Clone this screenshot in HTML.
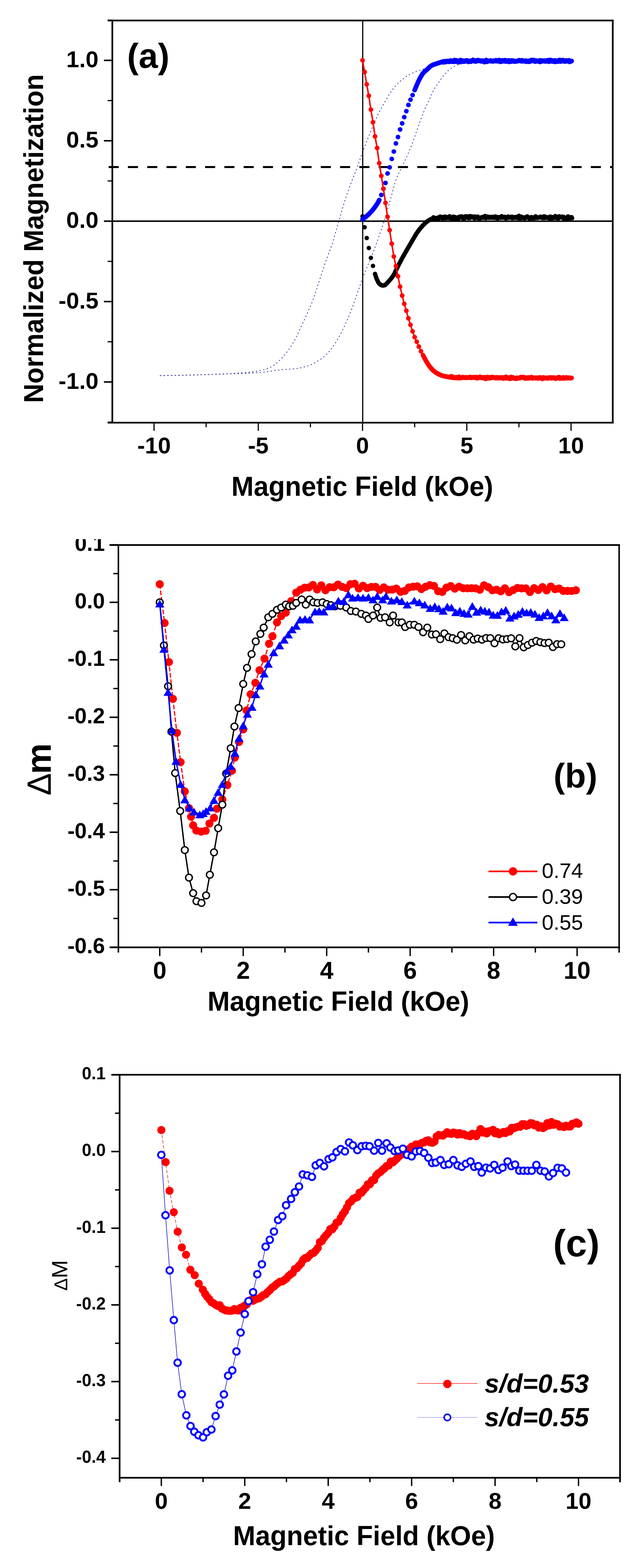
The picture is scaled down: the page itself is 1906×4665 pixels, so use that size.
<!DOCTYPE html><html><head><meta charset="utf-8"><title>Magnetization figure</title>
<style>html,body{margin:0;padding:0;background:#fff;overflow:hidden;}svg{display:block;}text{font-family:"Liberation Sans",Arial,sans-serif;fill:#000;}</style></head><body>
<svg width="1906" height="4665" viewBox="0 0 1906 4665">
<rect width="1906" height="4665" fill="#fff"/>
<polyline points="475.4,1117.5 476.9,1117.5 478.4,1117.5 480.0,1117.5 481.5,1117.5 483.0,1117.5 484.5,1117.5 486.1,1117.5 487.6,1117.4 489.1,1117.4 490.7,1117.4 492.2,1117.4 493.7,1117.4 495.3,1117.4 496.8,1117.4 498.3,1117.3 499.8,1117.3 501.4,1117.3 502.9,1117.3 504.4,1117.3 506.0,1117.2 507.5,1117.2 509.0,1117.2 510.6,1117.2 512.1,1117.2 513.6,1117.1 515.1,1117.1 516.7,1117.1 518.2,1117.1 519.7,1117.0 521.3,1117.0 522.8,1117.0 524.3,1116.9 525.9,1116.9 527.4,1116.9 528.9,1116.9 530.4,1116.8 532.0,1116.8 533.5,1116.8 535.0,1116.7 536.6,1116.7 538.1,1116.7 539.6,1116.6 541.2,1116.6 542.7,1116.6 544.2,1116.5 545.7,1116.5 547.3,1116.4 548.8,1116.4 550.3,1116.4 551.9,1116.3 553.4,1116.3 554.9,1116.3 556.5,1116.2 558.0,1116.2 559.5,1116.1 561.1,1116.1 562.6,1116.0 564.1,1116.0 565.6,1116.0 567.2,1115.9 568.7,1115.9 570.2,1115.8 571.8,1115.8 573.3,1115.7 574.8,1115.7 576.4,1115.7 577.9,1115.6 579.4,1115.6 580.9,1115.5 582.5,1115.5 584.0,1115.4 585.5,1115.4 587.1,1115.3 588.6,1115.3 590.1,1115.2 591.7,1115.2 593.2,1115.1 594.7,1115.1 596.2,1115.0 597.8,1115.0 599.3,1114.9 600.8,1114.9 602.4,1114.8 603.9,1114.8 605.4,1114.7 607.0,1114.7 608.5,1114.6 610.0,1114.6 611.5,1114.5 613.1,1114.5 614.6,1114.4 616.1,1114.4 617.7,1114.3 619.2,1114.3 620.7,1114.2 622.3,1114.2 623.8,1114.1 625.3,1114.1 626.9,1114.0 628.4,1114.0 629.9,1113.9 631.4,1113.9 633.0,1113.8 634.5,1113.8 636.0,1113.7 637.6,1113.6 639.1,1113.6 640.6,1113.5 642.2,1113.5 643.7,1113.4 645.2,1113.4 646.7,1113.3 648.3,1113.2 649.8,1113.2 651.3,1113.1 652.9,1113.1 654.4,1113.0 655.9,1112.9 657.5,1112.9 659.0,1112.8 660.5,1112.7 662.0,1112.7 663.6,1112.6 665.1,1112.5 666.6,1112.5 668.2,1112.4 669.7,1112.3 671.2,1112.2 672.8,1112.2 674.3,1112.1 675.8,1112.0 677.3,1111.9 678.9,1111.9 680.4,1111.8 681.9,1111.7 683.5,1111.6 685.0,1111.5 686.5,1111.4 688.1,1111.4 689.6,1111.3 691.1,1111.2 692.7,1111.1 694.2,1111.0 695.7,1110.9 697.2,1110.8 698.8,1110.7 700.3,1110.6 701.8,1110.5 703.4,1110.4 704.9,1110.3 706.4,1110.2 708.0,1110.1 709.5,1110.0 711.0,1109.9 712.5,1109.8 714.1,1109.6 715.6,1109.5 717.1,1109.4 718.7,1109.3 720.2,1109.2 721.7,1109.0 723.3,1108.9 724.8,1108.8 726.3,1108.7 727.8,1108.5 729.4,1108.4 730.9,1108.3 732.4,1108.1 734.0,1108.0 735.5,1107.8 737.0,1107.7 738.6,1107.5 740.1,1107.4 741.6,1107.2 743.1,1107.1 744.7,1106.9 746.2,1106.7 747.7,1106.5 749.3,1106.3 750.8,1106.1 752.3,1105.9 753.9,1105.7 755.4,1105.5 756.9,1105.2 758.4,1105.0 760.0,1104.7 761.5,1104.5 763.0,1104.2 764.6,1103.9 766.1,1103.7 767.6,1103.4 769.2,1103.1 770.7,1102.8 772.2,1102.4 773.8,1102.1 775.3,1101.8 776.8,1101.4 778.3,1101.1 779.9,1100.7 781.4,1100.3 782.9,1099.9 784.5,1099.5 786.0,1099.1 787.5,1098.7 789.1,1098.3 790.6,1097.9 792.1,1097.4 793.6,1097.0 795.2,1096.5 796.7,1096.0 798.2,1095.5 799.8,1095.0 801.3,1094.4 802.8,1093.7 804.4,1092.9 805.9,1092.1 807.4,1091.2 808.9,1090.3 810.5,1089.3 812.0,1088.2 813.5,1087.2 815.1,1086.1 816.6,1085.0 818.1,1083.8 819.7,1082.7 821.2,1081.5 822.7,1080.2 824.2,1078.9 825.8,1077.5 827.3,1076.1 828.8,1074.6 830.4,1073.1 831.9,1071.6 833.4,1070.1 835.0,1068.5 836.5,1066.9 838.0,1065.3 839.6,1063.7 841.1,1062.0 842.6,1060.3 844.1,1058.5 845.7,1056.7 847.2,1054.9 848.7,1053.0 850.3,1051.1 851.8,1049.2 853.3,1047.2 854.9,1045.2 856.4,1043.1 857.9,1041.0 859.4,1038.8 861.0,1036.6 862.5,1034.4 864.0,1032.0 865.6,1029.7 867.1,1027.3 868.6,1024.8 870.2,1022.3 871.7,1019.7 873.2,1017.0 874.7,1014.4 876.3,1011.6 877.8,1008.8 879.3,1005.8 880.9,1002.7 882.4,999.6 883.9,996.4 885.5,993.2 887.0,989.9 888.5,986.6 890.0,983.3 891.6,980.0 893.1,976.8 894.6,973.5 896.2,970.3 897.7,967.1 899.2,963.8 900.8,960.6 902.3,957.3 903.8,954.0 905.3,950.7 906.9,947.4 908.4,944.0 909.9,940.6 911.5,937.2 913.0,933.7 914.5,930.3 916.1,926.8 917.6,923.3 919.1,919.8 920.7,916.3 922.2,912.8 923.7,909.2 925.2,905.5 926.8,901.8 928.3,898.0 929.8,894.1 931.4,890.1 932.9,886.0 934.4,881.7 936.0,877.3 937.5,872.7 939.0,868.0 940.5,863.3 942.1,858.4 943.6,853.5 945.1,848.7 946.7,843.8 948.2,839.0 949.7,834.3 951.3,829.6 952.8,825.0 954.3,820.4 955.8,815.8 957.4,811.2 958.9,806.7 960.4,802.1 962.0,797.5 963.5,793.0 965.0,788.5 966.6,784.1 968.1,779.6 969.6,775.2 971.1,770.9 972.7,766.6 974.2,762.4 975.7,758.3 977.3,754.3 978.8,750.2 980.3,746.2 981.9,742.0 983.4,737.9 984.9,733.6 986.5,729.3 988.0,724.8 989.5,720.1 991.0,715.3 992.6,710.3 994.1,705.1 995.6,699.8 997.2,694.4 998.7,689.0 1000.2,683.5 1001.8,678.0 1003.3,672.5 1004.8,667.0 1006.3,661.6 1007.9,656.3 1009.4,651.1 1010.9,645.8 1012.5,640.5 1014.0,635.2 1015.5,629.9 1017.1,624.6 1018.6,619.4 1020.1,614.2 1021.6,609.1 1023.2,604.1 1024.7,599.1 1026.2,594.3 1027.8,589.7 1029.3,585.1 1030.8,580.6 1032.4,576.2 1033.9,571.8 1035.4,567.5 1036.9,563.3 1038.5,559.1 1040.0,554.9 1041.5,550.8 1043.1,546.7 1044.6,542.6 1046.1,538.6 1047.7,534.6 1049.2,530.6 1050.7,526.8 1052.3,523.0 1053.8,519.2 1055.3,515.4 1056.8,511.6 1058.4,507.7 1059.9,503.7 1061.4,499.7 1063.0,495.5 1064.5,491.2 1066.0,486.8 1067.6,482.3 1069.1,477.8 1070.6,473.3 1072.1,468.8 1073.7,464.4 1075.2,460.0 1076.7,455.7 1078.3,451.6 1079.8,447.5 1081.3,443.5 1082.9,439.5 1084.4,435.5 1085.9,431.6 1087.4,427.7 1089.0,423.9 1090.5,420.1 1092.0,416.3 1093.6,412.5 1095.1,408.8 1096.6,405.0 1098.2,401.3 1099.7,397.6 1101.2,393.9 1102.7,390.2 1104.3,386.5 1105.8,382.8 1107.3,379.1 1108.9,375.4 1110.4,371.8 1111.9,368.1 1113.5,364.5 1115.0,360.9 1116.5,357.3 1118.0,353.8 1119.6,350.4 1121.1,347.0 1122.6,343.7 1124.2,340.5 1125.7,337.4 1127.2,334.4 1128.8,331.3 1130.3,328.4 1131.8,325.4 1133.4,322.6 1134.9,319.7 1136.4,316.9 1137.9,314.2 1139.5,311.4 1141.0,308.7 1142.5,306.1 1144.1,303.5 1145.6,300.9 1147.1,298.3 1148.7,295.7 1150.2,293.2 1151.7,290.6 1153.2,288.1 1154.8,285.6 1156.3,283.1 1157.8,280.6 1159.4,278.2 1160.9,275.8 1162.4,273.4 1164.0,271.1 1165.5,268.9 1167.0,266.8 1168.5,264.7 1170.1,262.7 1171.6,260.7 1173.1,258.9 1174.7,257.1 1176.2,255.4 1177.7,253.7 1179.3,252.1 1180.8,250.6 1182.3,249.0 1183.8,247.5 1185.4,246.1 1186.9,244.6 1188.4,243.2 1190.0,241.9 1191.5,240.5 1193.0,239.2 1194.6,237.9 1196.1,236.6 1197.6,235.3 1199.2,234.0 1200.7,232.8 1202.2,231.6 1203.7,230.5 1205.3,229.4 1206.8,228.3 1208.3,227.4 1209.9,226.4 1211.4,225.5 1212.9,224.6 1214.5,223.7 1216.0,222.8 1217.5,222.0 1219.0,221.2 1220.6,220.4 1222.1,219.6 1223.6,218.8 1225.2,218.1 1226.7,217.4 1228.2,216.6 1229.8,216.0 1231.3,215.3 1232.8,214.6 1234.3,214.0 1235.9,213.4 1237.4,212.8 1238.9,212.3 1240.5,211.8 1242.0,211.3 1243.5,210.8 1245.1,210.4 1246.6,209.9 1248.1,209.4 1249.6,209.0 1251.2,208.5 1252.7,207.9 1254.2,207.3 1255.8,206.8 1257.3,206.2 1258.8,205.5 1260.4,204.9 1261.9,204.3 1263.4,203.7 1264.9,203.1 1266.5,202.5 1268.0,201.9 1269.5,201.4 1271.1,200.8 1272.6,200.3 1274.1,199.8 1275.7,199.2 1277.2,198.7 1278.7,198.1 1280.3,197.6 1281.8,197.1 1283.3,196.5 1284.8,196.0 1286.4,195.5 1287.9,195.0 1289.4,194.5 1291.0,194.1 1292.5,193.6 1294.0,193.2 1295.6,192.8 1297.1,192.4 1298.6,192.1 1300.1,191.8 1301.7,191.5 1303.2,191.2 1304.7,190.9 1306.3,190.6 1307.8,190.3 1309.3,190.0 1310.9,189.8 1312.4,189.5 1313.9,189.2 1315.4,188.9 1317.0,188.7 1318.5,188.4 1320.0,188.2 1321.6,187.9 1323.1,187.7 1324.6,187.4 1326.2,187.2 1327.7,187.0 1329.2,186.8 1330.7,186.5 1332.3,186.3 1333.8,186.1 1335.3,186.0 1336.9,185.8 1338.4,185.6 1339.9,185.4 1341.5,185.3 1343.0,185.1 1344.5,185.0 1346.1,184.9 1347.6,184.8 1349.1,184.7 1350.6,184.6 1352.2,184.5 1353.7,184.5 1355.2,184.4 1356.8,184.4 1358.3,184.4 1359.8,184.3 1361.4,184.3 1362.9,184.3 1364.4,184.3 1365.9,184.2 1367.5,184.2 1369.0,184.2 1370.5,184.2 1372.1,184.1 1373.6,184.1 1375.1,184.1 1376.7,184.1 1378.2,184.0 1379.7,184.0 1381.2,184.0 1382.8,184.0 1384.3,183.9 1385.8,183.9 1387.4,183.9 1388.9,183.9 1390.4,183.9 1392.0,183.8 1393.5,183.8 1395.0,183.8 1396.5,183.8 1398.1,183.7 1399.6,183.7 1401.1,183.7 1402.7,183.7 1404.2,183.7 1405.7,183.6 1407.3,183.6 1408.8,183.6 1410.3,183.6 1411.9,183.6 1413.4,183.5 1414.9,183.5 1416.4,183.5 1418.0,183.5 1419.5,183.5 1421.0,183.4 1422.6,183.4 1424.1,183.4 1425.6,183.4 1427.2,183.4 1428.7,183.4 1430.2,183.3 1431.7,183.3 1433.3,183.3 1434.8,183.3 1436.3,183.3 1437.9,183.2 1439.4,183.2 1440.9,183.2 1442.5,183.2 1444.0,183.2 1445.5,183.2 1447.0,183.1 1448.6,183.1 1450.1,183.1 1451.6,183.1 1453.2,183.1 1454.7,183.1 1456.2,183.0 1457.8,183.0 1459.3,183.0 1460.8,183.0 1462.3,183.0 1463.9,183.0 1465.4,183.0 1466.9,182.9 1468.5,182.9 1470.0,182.9 1471.5,182.9 1473.1,182.9 1474.6,182.9 1476.1,182.9 1477.6,182.8 1479.2,182.8 1480.7,182.8 1482.2,182.8 1483.8,182.8 1485.3,182.8 1486.8,182.8 1488.4,182.8 1489.9,182.7 1491.4,182.7 1493.0,182.7 1494.5,182.7 1496.0,182.7 1497.5,182.7 1499.1,182.7 1500.6,182.7 1502.1,182.6 1503.7,182.6 1505.2,182.6 1506.7,182.6 1508.3,182.6 1509.8,182.6 1511.3,182.6 1512.8,182.6 1514.4,182.6 1515.9,182.5 1517.4,182.5 1519.0,182.5 1520.5,182.5 1522.0,182.5 1523.6,182.5 1525.1,182.5 1526.6,182.5 1528.1,182.5 1529.7,182.5 1531.2,182.4 1532.7,182.4 1534.3,182.4 1535.8,182.4 1537.3,182.4 1538.9,182.4 1540.4,182.4 1541.9,182.4 1543.4,182.4 1545.0,182.4 1546.5,182.4 1548.0,182.3 1549.6,182.3 1551.1,182.3 1552.6,182.3 1554.2,182.3 1555.7,182.3 1557.2,182.3 1558.8,182.3 1560.3,182.3 1561.8,182.3 1563.3,182.3 1564.9,182.3 1566.4,182.3 1567.9,182.3 1569.5,182.2 1571.0,182.2 1572.5,182.2 1574.1,182.2 1575.6,182.2 1577.1,182.2 1578.6,182.2 1580.2,182.2 1581.7,182.2 1583.2,182.2 1584.8,182.2 1586.3,182.2 1587.8,182.2 1589.4,182.2 1590.9,182.2 1592.4,182.2 1593.9,182.2 1595.5,182.1 1597.0,182.1 1598.5,182.1 1600.1,182.1 1601.6,182.1 1603.1,182.1 1604.7,182.1 1606.2,182.1 1607.7,182.1 1609.2,182.1 1610.8,182.1 1612.3,182.1 1613.8,182.1 1615.4,182.1 1616.9,182.1 1618.4,182.1 1620.0,182.1 1621.5,182.1 1623.0,182.1 1624.5,182.1 1626.1,182.1 1627.6,182.1 1629.1,182.1 1630.7,182.1 1632.2,182.1 1633.7,182.0 1635.3,182.0 1636.8,182.0 1638.3,182.0 1639.9,182.0 1641.4,182.0 1642.9,182.0 1644.4,182.0 1646.0,182.0 1647.5,182.0 1649.0,182.0 1650.6,182.0 1652.1,182.0 1653.6,182.0 1655.2,182.0 1656.7,182.0 1658.2,182.0 1659.7,182.0 1661.3,182.0 1662.8,182.0 1664.3,182.0 1665.9,182.0 1667.4,182.0 1668.9,182.0 1670.5,182.0 1672.0,182.0 1673.5,182.0 1675.0,182.0 1676.6,182.0 1678.1,182.0 1679.6,182.0 1681.2,182.0 1682.7,182.0 1684.2,182.0 1685.8,182.0 1687.3,182.0 1688.8,182.0 1690.3,182.0 1691.9,182.0 1693.4,182.0 1694.9,182.0 1696.5,182.0 1698.0,182.0" fill="none" stroke="#24249a" stroke-width="2.0" stroke-linejoin="round" stroke-dasharray="4 7"/>
<polyline points="475.4,1117.5 476.9,1117.5 478.4,1117.5 480.0,1117.4 481.5,1117.4 483.0,1117.4 484.5,1117.4 486.1,1117.3 487.6,1117.3 489.1,1117.3 490.7,1117.3 492.2,1117.2 493.7,1117.2 495.3,1117.2 496.8,1117.2 498.3,1117.1 499.8,1117.1 501.4,1117.1 502.9,1117.1 504.4,1117.0 506.0,1117.0 507.5,1117.0 509.0,1116.9 510.6,1116.9 512.1,1116.9 513.6,1116.8 515.1,1116.8 516.7,1116.8 518.2,1116.8 519.7,1116.7 521.3,1116.7 522.8,1116.7 524.3,1116.6 525.9,1116.6 527.4,1116.6 528.9,1116.5 530.4,1116.5 532.0,1116.5 533.5,1116.4 535.0,1116.4 536.6,1116.4 538.1,1116.3 539.6,1116.3 541.2,1116.3 542.7,1116.2 544.2,1116.2 545.7,1116.2 547.3,1116.1 548.8,1116.1 550.3,1116.1 551.9,1116.0 553.4,1116.0 554.9,1115.9 556.5,1115.9 558.0,1115.9 559.5,1115.8 561.1,1115.8 562.6,1115.8 564.1,1115.7 565.6,1115.7 567.2,1115.6 568.7,1115.6 570.2,1115.6 571.8,1115.5 573.3,1115.5 574.8,1115.4 576.4,1115.4 577.9,1115.4 579.4,1115.3 580.9,1115.3 582.5,1115.2 584.0,1115.2 585.5,1115.2 587.1,1115.1 588.6,1115.1 590.1,1115.0 591.7,1115.0 593.2,1115.0 594.7,1114.9 596.2,1114.9 597.8,1114.8 599.3,1114.8 600.8,1114.7 602.4,1114.7 603.9,1114.7 605.4,1114.6 607.0,1114.6 608.5,1114.5 610.0,1114.5 611.5,1114.4 613.1,1114.4 614.6,1114.4 616.1,1114.3 617.7,1114.3 619.2,1114.2 620.7,1114.2 622.3,1114.1 623.8,1114.1 625.3,1114.0 626.9,1114.0 628.4,1114.0 629.9,1113.9 631.4,1113.9 633.0,1113.8 634.5,1113.8 636.0,1113.7 637.6,1113.7 639.1,1113.6 640.6,1113.6 642.2,1113.6 643.7,1113.5 645.2,1113.5 646.7,1113.4 648.3,1113.4 649.8,1113.3 651.3,1113.3 652.9,1113.2 654.4,1113.2 655.9,1113.1 657.5,1113.1 659.0,1113.1 660.5,1113.0 662.0,1113.0 663.6,1112.9 665.1,1112.9 666.6,1112.8 668.2,1112.8 669.7,1112.7 671.2,1112.7 672.8,1112.6 674.3,1112.6 675.8,1112.5 677.3,1112.5 678.9,1112.4 680.4,1112.4 681.9,1112.4 683.5,1112.3 685.0,1112.3 686.5,1112.2 688.1,1112.1 689.6,1112.1 691.1,1112.0 692.7,1112.0 694.2,1111.9 695.7,1111.9 697.2,1111.8 698.8,1111.8 700.3,1111.7 701.8,1111.7 703.4,1111.6 704.9,1111.6 706.4,1111.5 708.0,1111.4 709.5,1111.4 711.0,1111.3 712.5,1111.3 714.1,1111.2 715.6,1111.1 717.1,1111.1 718.7,1111.0 720.2,1111.0 721.7,1110.9 723.3,1110.8 724.8,1110.8 726.3,1110.7 727.8,1110.6 729.4,1110.6 730.9,1110.5 732.4,1110.4 734.0,1110.3 735.5,1110.3 737.0,1110.2 738.6,1110.1 740.1,1110.0 741.6,1110.0 743.1,1109.9 744.7,1109.8 746.2,1109.7 747.7,1109.7 749.3,1109.6 750.8,1109.5 752.3,1109.4 753.9,1109.3 755.4,1109.2 756.9,1109.2 758.4,1109.1 760.0,1109.0 761.5,1108.9 763.0,1108.8 764.6,1108.7 766.1,1108.6 767.6,1108.5 769.2,1108.4 770.7,1108.3 772.2,1108.2 773.8,1108.1 775.3,1108.0 776.8,1107.9 778.3,1107.8 779.9,1107.6 781.4,1107.5 782.9,1107.3 784.5,1107.1 786.0,1107.0 787.5,1106.8 789.1,1106.6 790.6,1106.4 792.1,1106.2 793.6,1106.0 795.2,1105.8 796.7,1105.5 798.2,1105.3 799.8,1105.1 801.3,1104.9 802.8,1104.6 804.4,1104.4 805.9,1104.2 807.4,1103.9 808.9,1103.7 810.5,1103.5 812.0,1103.2 813.5,1103.0 815.1,1102.8 816.6,1102.6 818.1,1102.3 819.7,1102.1 821.2,1101.9 822.7,1101.7 824.2,1101.5 825.8,1101.3 827.3,1101.1 828.8,1100.9 830.4,1100.7 831.9,1100.5 833.4,1100.4 835.0,1100.2 836.5,1100.1 838.0,1099.9 839.6,1099.8 841.1,1099.7 842.6,1099.6 844.1,1099.5 845.7,1099.3 847.2,1099.2 848.7,1099.1 850.3,1099.0 851.8,1098.9 853.3,1098.9 854.9,1098.8 856.4,1098.7 857.9,1098.6 859.4,1098.5 861.0,1098.4 862.5,1098.3 864.0,1098.2 865.6,1098.1 867.1,1097.9 868.6,1097.8 870.2,1097.7 871.7,1097.5 873.2,1097.4 874.7,1097.2 876.3,1097.1 877.8,1096.9 879.3,1096.7 880.9,1096.5 882.4,1096.3 883.9,1096.0 885.5,1095.8 887.0,1095.5 888.5,1095.3 890.0,1095.0 891.6,1094.7 893.1,1094.4 894.6,1094.1 896.2,1093.8 897.7,1093.4 899.2,1093.1 900.8,1092.7 902.3,1092.4 903.8,1092.0 905.3,1091.6 906.9,1091.2 908.4,1090.8 909.9,1090.4 911.5,1090.0 913.0,1089.5 914.5,1089.1 916.1,1088.6 917.6,1088.1 919.1,1087.5 920.7,1086.9 922.2,1086.3 923.7,1085.6 925.2,1084.9 926.8,1084.2 928.3,1083.5 929.8,1082.7 931.4,1081.9 932.9,1081.1 934.4,1080.3 936.0,1079.4 937.5,1078.6 939.0,1077.7 940.5,1076.8 942.1,1075.9 943.6,1074.9 945.1,1074.0 946.7,1073.0 948.2,1072.1 949.7,1071.1 951.3,1070.2 952.8,1069.2 954.3,1068.1 955.8,1067.0 957.4,1065.9 958.9,1064.8 960.4,1063.6 962.0,1062.3 963.5,1061.0 965.0,1059.7 966.6,1058.4 968.1,1057.0 969.6,1055.5 971.1,1054.1 972.7,1052.5 974.2,1050.9 975.7,1049.2 977.3,1047.5 978.8,1045.7 980.3,1043.9 981.9,1042.0 983.4,1040.0 984.9,1038.1 986.5,1036.0 988.0,1034.0 989.5,1031.9 991.0,1029.7 992.6,1027.5 994.1,1025.2 995.6,1022.8 997.2,1020.4 998.7,1017.9 1000.2,1015.4 1001.8,1012.8 1003.3,1010.2 1004.8,1007.5 1006.3,1004.8 1007.9,1002.1 1009.4,999.3 1010.9,996.5 1012.5,993.6 1014.0,990.7 1015.5,987.7 1017.1,984.7 1018.6,981.7 1020.1,978.5 1021.6,975.4 1023.2,972.2 1024.7,969.0 1026.2,965.7 1027.8,962.4 1029.3,959.0 1030.8,955.6 1032.4,952.2 1033.9,948.7 1035.4,945.2 1036.9,941.6 1038.5,937.9 1040.0,934.2 1041.5,930.5 1043.1,926.7 1044.6,922.8 1046.1,918.9 1047.7,914.9 1049.2,910.8 1050.7,906.5 1052.3,902.2 1053.8,897.8 1055.3,893.3 1056.8,888.8 1058.4,884.3 1059.9,879.8 1061.4,875.3 1063.0,870.9 1064.5,866.5 1066.0,862.2 1067.6,857.8 1069.1,853.5 1070.6,849.1 1072.1,844.7 1073.7,840.3 1075.2,836.0 1076.7,831.7 1078.3,827.4 1079.8,823.2 1081.3,819.1 1082.9,815.0 1084.4,811.1 1085.9,807.3 1087.4,803.5 1089.0,799.9 1090.5,796.3 1092.0,792.8 1093.6,789.3 1095.1,785.8 1096.6,782.3 1098.2,778.7 1099.7,775.2 1101.2,771.5 1102.7,767.8 1104.3,764.0 1105.8,760.1 1107.3,756.2 1108.9,752.3 1110.4,748.3 1111.9,744.3 1113.5,740.2 1115.0,736.1 1116.5,732.0 1118.0,727.8 1119.6,723.6 1121.1,719.4 1122.6,715.1 1124.2,710.8 1125.7,706.4 1127.2,702.1 1128.8,697.6 1130.3,693.2 1131.8,688.7 1133.4,684.1 1134.9,679.5 1136.4,674.9 1137.9,670.2 1139.5,665.4 1141.0,660.7 1142.5,655.8 1144.1,650.9 1145.6,645.9 1147.1,640.8 1148.7,635.7 1150.2,630.6 1151.7,625.4 1153.2,620.1 1154.8,614.9 1156.3,609.6 1157.8,604.3 1159.4,599.1 1160.9,593.8 1162.4,588.4 1164.0,582.8 1165.5,577.0 1167.0,571.2 1168.5,565.4 1170.1,559.7 1171.6,554.0 1173.1,548.6 1174.7,543.4 1176.2,538.4 1177.7,533.9 1179.3,529.8 1180.8,526.0 1182.3,522.5 1183.8,519.2 1185.4,516.1 1186.9,513.0 1188.4,510.1 1190.0,507.2 1191.5,504.3 1193.0,501.2 1194.6,498.1 1196.1,494.8 1197.6,491.5 1199.2,488.3 1200.7,485.0 1202.2,481.7 1203.7,478.4 1205.3,475.1 1206.8,471.8 1208.3,468.4 1209.9,465.1 1211.4,461.7 1212.9,458.2 1214.5,454.8 1216.0,451.2 1217.5,447.7 1219.0,444.1 1220.6,440.4 1222.1,436.6 1223.6,432.8 1225.2,428.9 1226.7,424.9 1228.2,420.7 1229.8,416.5 1231.3,412.1 1232.8,407.7 1234.3,403.3 1235.9,398.8 1237.4,394.3 1238.9,389.8 1240.5,385.3 1242.0,380.9 1243.5,376.5 1245.1,372.2 1246.6,368.0 1248.1,363.9 1249.6,359.8 1251.2,355.7 1252.7,351.6 1254.2,347.5 1255.8,343.5 1257.3,339.6 1258.8,335.7 1260.4,331.8 1261.9,328.1 1263.4,324.5 1264.9,321.0 1266.5,317.6 1268.0,314.3 1269.5,311.1 1271.1,308.0 1272.6,304.8 1274.1,301.6 1275.7,298.4 1277.2,295.1 1278.7,291.6 1280.3,288.0 1281.8,284.4 1283.3,280.8 1284.8,277.3 1286.4,274.0 1287.9,271.0 1289.4,268.2 1291.0,265.6 1292.5,263.0 1294.0,260.6 1295.6,258.2 1297.1,255.9 1298.6,253.6 1300.1,251.4 1301.7,249.2 1303.2,247.0 1304.7,244.9 1306.3,242.7 1307.8,240.4 1309.3,238.2 1310.9,236.0 1312.4,233.8 1313.9,231.7 1315.4,229.6 1317.0,227.5 1318.5,225.5 1320.0,223.6 1321.6,221.8 1323.1,220.0 1324.6,218.4 1326.2,216.7 1327.7,215.1 1329.2,213.5 1330.7,212.0 1332.3,210.5 1333.8,209.1 1335.3,207.7 1336.9,206.5 1338.4,205.3 1339.9,204.3 1341.5,203.3 1343.0,202.3 1344.5,201.3 1346.1,200.3 1347.6,199.4 1349.1,198.5 1350.6,197.6 1352.2,196.8 1353.7,196.0 1355.2,195.2 1356.8,194.5 1358.3,193.8 1359.8,193.2 1361.4,192.7 1362.9,192.2 1364.4,191.8 1365.9,191.5 1367.5,191.2 1369.0,190.9 1370.5,190.6 1372.1,190.4 1373.6,190.1 1375.1,189.8 1376.7,189.6 1378.2,189.3 1379.7,189.1 1381.2,188.9 1382.8,188.7 1384.3,188.5 1385.8,188.3 1387.4,188.1 1388.9,187.9 1390.4,187.8 1392.0,187.6 1393.5,187.5 1395.0,187.4 1396.5,187.2 1398.1,187.1 1399.6,187.0 1401.1,187.0 1402.7,186.9 1404.2,186.8 1405.7,186.8 1407.3,186.8 1408.8,186.7 1410.3,186.7 1411.9,186.7 1413.4,186.6 1414.9,186.6 1416.4,186.6 1418.0,186.6 1419.5,186.5 1421.0,186.5 1422.6,186.5 1424.1,186.4 1425.6,186.4 1427.2,186.4 1428.7,186.4 1430.2,186.3 1431.7,186.3 1433.3,186.3 1434.8,186.3 1436.3,186.2 1437.9,186.2 1439.4,186.2 1440.9,186.2 1442.5,186.1 1444.0,186.1 1445.5,186.1 1447.0,186.1 1448.6,186.0 1450.1,186.0 1451.6,186.0 1453.2,186.0 1454.7,185.9 1456.2,185.9 1457.8,185.9 1459.3,185.9 1460.8,185.9 1462.3,185.8 1463.9,185.8 1465.4,185.8 1466.9,185.8 1468.5,185.7 1470.0,185.7 1471.5,185.7 1473.1,185.7 1474.6,185.7 1476.1,185.6 1477.6,185.6 1479.2,185.6 1480.7,185.6 1482.2,185.6 1483.8,185.5 1485.3,185.5 1486.8,185.5 1488.4,185.5 1489.9,185.5 1491.4,185.4 1493.0,185.4 1494.5,185.4 1496.0,185.4 1497.5,185.4 1499.1,185.4 1500.6,185.3 1502.1,185.3 1503.7,185.3 1505.2,185.3 1506.7,185.3 1508.3,185.3 1509.8,185.2 1511.3,185.2 1512.8,185.2 1514.4,185.2 1515.9,185.2 1517.4,185.2 1519.0,185.2 1520.5,185.1 1522.0,185.1 1523.6,185.1 1525.1,185.1 1526.6,185.1 1528.1,185.1 1529.7,185.1 1531.2,185.0 1532.7,185.0 1534.3,185.0 1535.8,185.0 1537.3,185.0 1538.9,185.0 1540.4,185.0 1541.9,184.9 1543.4,184.9 1545.0,184.9 1546.5,184.9 1548.0,184.9 1549.6,184.9 1551.1,184.9 1552.6,184.9 1554.2,184.9 1555.7,184.8 1557.2,184.8 1558.8,184.8 1560.3,184.8 1561.8,184.8 1563.3,184.8 1564.9,184.8 1566.4,184.8 1567.9,184.8 1569.5,184.7 1571.0,184.7 1572.5,184.7 1574.1,184.7 1575.6,184.7 1577.1,184.7 1578.6,184.7 1580.2,184.7 1581.7,184.7 1583.2,184.7 1584.8,184.7 1586.3,184.7 1587.8,184.6 1589.4,184.6 1590.9,184.6 1592.4,184.6 1593.9,184.6 1595.5,184.6 1597.0,184.6 1598.5,184.6 1600.1,184.6 1601.6,184.6 1603.1,184.6 1604.7,184.6 1606.2,184.6 1607.7,184.6 1609.2,184.5 1610.8,184.5 1612.3,184.5 1613.8,184.5 1615.4,184.5 1616.9,184.5 1618.4,184.5 1620.0,184.5 1621.5,184.5 1623.0,184.5 1624.5,184.5 1626.1,184.5 1627.6,184.5 1629.1,184.5 1630.7,184.5 1632.2,184.5 1633.7,184.5 1635.3,184.5 1636.8,184.5 1638.3,184.5 1639.9,184.4 1641.4,184.4 1642.9,184.4 1644.4,184.4 1646.0,184.4 1647.5,184.4 1649.0,184.4 1650.6,184.4 1652.1,184.4 1653.6,184.4 1655.2,184.4 1656.7,184.4 1658.2,184.4 1659.7,184.4 1661.3,184.4 1662.8,184.4 1664.3,184.4 1665.9,184.4 1667.4,184.4 1668.9,184.4 1670.5,184.4 1672.0,184.4 1673.5,184.4 1675.0,184.4 1676.6,184.4 1678.1,184.4 1679.6,184.4 1681.2,184.4 1682.7,184.4 1684.2,184.4 1685.8,184.4 1687.3,184.4 1688.8,184.4 1690.3,184.4 1691.9,184.4 1693.4,184.4 1694.9,184.4 1696.5,184.4 1698.0,184.4" fill="none" stroke="#24249a" stroke-width="2.0" stroke-linejoin="round" stroke-dasharray="4 7"/>
<line x1="323" y1="497" x2="1822" y2="497" stroke="#000" stroke-width="6" stroke-dasharray="30 27.35"/>
<line x1="334" y1="658" x2="1822" y2="658" stroke="#000" stroke-width="4.5" />
<line x1="1078.5" y1="61" x2="1078.5" y2="1257.5" stroke="#000" stroke-width="3.5" />
<g fill="#000" stroke="none" stroke-width="0">
<circle cx="1078.0" cy="643.6" r="6.6"/>
<circle cx="1084.2" cy="676.2" r="6.6"/>
<circle cx="1090.4" cy="708.2" r="6.6"/>
<circle cx="1096.6" cy="737.9" r="6.6"/>
<circle cx="1102.8" cy="767.1" r="6.6"/>
<circle cx="1109.0" cy="791.0" r="6.6"/>
<circle cx="1115.2" cy="814.9" r="6.6"/>
<circle cx="1116.8" cy="819.9" r="6.6"/>
<circle cx="1118.3" cy="824.6" r="6.6"/>
<circle cx="1119.8" cy="828.9" r="6.6"/>
<circle cx="1121.4" cy="832.6" r="6.6"/>
<circle cx="1123.0" cy="835.9" r="6.6"/>
<circle cx="1124.5" cy="839.0" r="6.6"/>
<circle cx="1126.0" cy="841.6" r="6.6"/>
<circle cx="1127.6" cy="843.6" r="6.6"/>
<circle cx="1129.2" cy="845.2" r="6.6"/>
<circle cx="1130.7" cy="846.6" r="6.6"/>
<circle cx="1132.2" cy="847.7" r="6.6"/>
<circle cx="1133.8" cy="848.4" r="6.6"/>
<circle cx="1135.3" cy="848.8" r="6.6"/>
<circle cx="1136.9" cy="849.1" r="6.6"/>
<circle cx="1138.5" cy="849.3" r="6.6"/>
<circle cx="1140.0" cy="849.4" r="6.6"/>
<circle cx="1141.5" cy="849.1" r="6.6"/>
<circle cx="1143.1" cy="848.6" r="6.6"/>
<circle cx="1144.7" cy="847.8" r="6.6"/>
<circle cx="1146.2" cy="847.0" r="6.6"/>
<circle cx="1147.8" cy="845.8" r="6.6"/>
<circle cx="1149.3" cy="844.2" r="6.6"/>
<circle cx="1150.8" cy="842.5" r="6.6"/>
<circle cx="1152.4" cy="840.7" r="6.6"/>
<circle cx="1154.0" cy="839.1" r="6.6"/>
<circle cx="1155.5" cy="837.4" r="6.6"/>
<circle cx="1157.0" cy="835.7" r="6.6"/>
<circle cx="1158.6" cy="833.9" r="6.6"/>
<circle cx="1160.2" cy="832.1" r="6.6"/>
<circle cx="1161.7" cy="830.2" r="6.6"/>
<circle cx="1163.2" cy="828.3" r="6.6"/>
<circle cx="1164.8" cy="826.3" r="6.6"/>
<circle cx="1166.3" cy="824.3" r="6.6"/>
<circle cx="1167.9" cy="822.1" r="6.6"/>
<circle cx="1169.5" cy="819.7" r="6.6"/>
<circle cx="1171.0" cy="817.2" r="6.6"/>
<circle cx="1172.5" cy="814.3" r="6.6"/>
<circle cx="1174.1" cy="811.2" r="6.6"/>
<circle cx="1175.7" cy="807.9" r="6.6"/>
<circle cx="1177.2" cy="804.7" r="6.6"/>
<circle cx="1178.8" cy="801.6" r="6.6"/>
<circle cx="1180.3" cy="798.5" r="6.6"/>
<circle cx="1181.8" cy="795.4" r="6.6"/>
<circle cx="1183.4" cy="792.2" r="6.6"/>
<circle cx="1185.0" cy="789.1" r="6.6"/>
<circle cx="1186.5" cy="786.0" r="6.6"/>
<circle cx="1188.0" cy="783.0" r="6.6"/>
<circle cx="1189.6" cy="779.9" r="6.6"/>
<circle cx="1191.2" cy="776.9" r="6.6"/>
<circle cx="1192.7" cy="774.0" r="6.6"/>
<circle cx="1194.2" cy="771.1" r="6.6"/>
<circle cx="1195.8" cy="768.3" r="6.6"/>
<circle cx="1197.3" cy="765.5" r="6.6"/>
<circle cx="1198.9" cy="762.7" r="6.6"/>
<circle cx="1200.5" cy="760.0" r="6.6"/>
<circle cx="1202.0" cy="757.3" r="6.6"/>
<circle cx="1203.5" cy="754.6" r="6.6"/>
<circle cx="1205.1" cy="751.9" r="6.6"/>
<circle cx="1206.7" cy="749.2" r="6.6"/>
<circle cx="1208.2" cy="746.5" r="6.6"/>
<circle cx="1209.8" cy="743.8" r="6.6"/>
<circle cx="1211.3" cy="741.1" r="6.6"/>
<circle cx="1212.8" cy="738.4" r="6.6"/>
<circle cx="1214.4" cy="735.7" r="6.6"/>
<circle cx="1216.0" cy="733.0" r="6.6"/>
<circle cx="1217.5" cy="730.3" r="6.6"/>
<circle cx="1219.0" cy="727.6" r="6.6"/>
<circle cx="1220.6" cy="725.0" r="6.6"/>
<circle cx="1222.2" cy="722.3" r="6.6"/>
<circle cx="1223.7" cy="719.7" r="6.6"/>
<circle cx="1225.2" cy="717.1" r="6.6"/>
<circle cx="1226.8" cy="714.4" r="6.6"/>
<circle cx="1228.3" cy="711.7" r="6.6"/>
<circle cx="1229.9" cy="709.0" r="6.6"/>
<circle cx="1231.5" cy="706.4" r="6.6"/>
<circle cx="1233.0" cy="703.7" r="6.6"/>
<circle cx="1234.5" cy="701.1" r="6.6"/>
<circle cx="1236.1" cy="698.5" r="6.6"/>
<circle cx="1237.7" cy="696.0" r="6.6"/>
<circle cx="1239.2" cy="693.6" r="6.6"/>
<circle cx="1240.8" cy="691.3" r="6.6"/>
<circle cx="1242.3" cy="689.1" r="6.6"/>
<circle cx="1243.8" cy="687.0" r="6.6"/>
<circle cx="1245.4" cy="684.9" r="6.6"/>
<circle cx="1247.0" cy="682.9" r="6.6"/>
<circle cx="1248.5" cy="681.0" r="6.6"/>
<circle cx="1250.0" cy="679.1" r="6.6"/>
<circle cx="1251.6" cy="677.2" r="6.6"/>
<circle cx="1253.2" cy="675.5" r="6.6"/>
<circle cx="1254.7" cy="673.7" r="6.6"/>
<circle cx="1256.2" cy="672.1" r="6.6"/>
<circle cx="1257.8" cy="670.4" r="6.6"/>
<circle cx="1259.3" cy="668.8" r="6.6"/>
<circle cx="1260.9" cy="667.3" r="6.6"/>
<circle cx="1262.5" cy="665.7" r="6.6"/>
<circle cx="1264.0" cy="664.2" r="6.6"/>
<circle cx="1265.5" cy="662.7" r="6.6"/>
<circle cx="1267.1" cy="661.3" r="6.6"/>
<circle cx="1268.7" cy="660.0" r="6.6"/>
<circle cx="1270.2" cy="658.7" r="6.6"/>
<circle cx="1271.8" cy="657.6" r="6.6"/>
<circle cx="1273.3" cy="656.7" r="6.6"/>
<circle cx="1274.8" cy="655.7" r="6.6"/>
<circle cx="1276.4" cy="654.8" r="6.6"/>
<circle cx="1278.0" cy="653.9" r="6.6"/>
<circle cx="1279.5" cy="653.1" r="6.6"/>
<circle cx="1281.0" cy="652.4" r="6.6"/>
<circle cx="1282.6" cy="651.7" r="6.6"/>
<circle cx="1284.2" cy="651.0" r="6.6"/>
<circle cx="1285.7" cy="650.5" r="6.6"/>
<circle cx="1287.2" cy="650.1" r="6.6"/>
<circle cx="1288.8" cy="646.5" r="6.6"/>
<circle cx="1290.3" cy="648.7" r="6.6"/>
<circle cx="1291.9" cy="649.0" r="6.6"/>
<circle cx="1293.5" cy="652.3" r="6.6"/>
<circle cx="1295.0" cy="649.2" r="6.6"/>
<circle cx="1296.5" cy="649.1" r="6.6"/>
<circle cx="1298.1" cy="648.4" r="6.6"/>
<circle cx="1299.7" cy="649.2" r="6.6"/>
<circle cx="1301.2" cy="647.9" r="6.6"/>
<circle cx="1302.8" cy="648.6" r="6.6"/>
<circle cx="1304.3" cy="650.0" r="6.6"/>
<circle cx="1305.8" cy="645.9" r="6.6"/>
<circle cx="1307.4" cy="645.9" r="6.6"/>
<circle cx="1309.0" cy="644.3" r="6.6"/>
<circle cx="1310.5" cy="647.3" r="6.6"/>
<circle cx="1312.0" cy="648.1" r="6.6"/>
<circle cx="1313.6" cy="648.3" r="6.6"/>
<circle cx="1315.2" cy="650.1" r="6.6"/>
<circle cx="1316.7" cy="645.5" r="6.6"/>
<circle cx="1318.2" cy="649.2" r="6.6"/>
<circle cx="1319.8" cy="649.3" r="6.6"/>
<circle cx="1321.3" cy="647.5" r="6.6"/>
<circle cx="1322.9" cy="644.4" r="6.6"/>
<circle cx="1324.5" cy="646.7" r="6.6"/>
<circle cx="1326.0" cy="648.9" r="6.6"/>
<circle cx="1327.5" cy="648.3" r="6.6"/>
<circle cx="1329.1" cy="645.9" r="6.6"/>
<circle cx="1330.7" cy="647.3" r="6.6"/>
<circle cx="1332.2" cy="648.3" r="6.6"/>
<circle cx="1333.8" cy="647.3" r="6.6"/>
<circle cx="1335.3" cy="645.5" r="6.6"/>
<circle cx="1336.8" cy="643.3" r="6.6"/>
<circle cx="1338.4" cy="649.1" r="6.6"/>
<circle cx="1340.0" cy="648.0" r="6.6"/>
<circle cx="1341.5" cy="648.3" r="6.6"/>
<circle cx="1343.0" cy="651.2" r="6.6"/>
<circle cx="1344.6" cy="648.4" r="6.6"/>
<circle cx="1346.2" cy="648.6" r="6.6"/>
<circle cx="1347.7" cy="644.7" r="6.6"/>
<circle cx="1349.2" cy="647.0" r="6.6"/>
<circle cx="1350.8" cy="649.7" r="6.6"/>
<circle cx="1352.3" cy="645.5" r="6.6"/>
<circle cx="1353.9" cy="647.3" r="6.6"/>
<circle cx="1355.5" cy="649.8" r="6.6"/>
<circle cx="1357.0" cy="647.7" r="6.6"/>
<circle cx="1358.5" cy="647.7" r="6.6"/>
<circle cx="1360.1" cy="648.2" r="6.6"/>
<circle cx="1361.7" cy="646.6" r="6.6"/>
<circle cx="1363.2" cy="650.7" r="6.6"/>
<circle cx="1364.8" cy="647.1" r="6.6"/>
<circle cx="1366.3" cy="644.7" r="6.6"/>
<circle cx="1367.8" cy="645.0" r="6.6"/>
<circle cx="1369.4" cy="644.5" r="6.6"/>
<circle cx="1371.0" cy="644.5" r="6.6"/>
<circle cx="1372.5" cy="643.8" r="6.6"/>
<circle cx="1374.0" cy="648.6" r="6.6"/>
<circle cx="1375.6" cy="645.0" r="6.6"/>
<circle cx="1377.2" cy="649.9" r="6.6"/>
<circle cx="1378.7" cy="647.6" r="6.6"/>
<circle cx="1380.2" cy="650.0" r="6.6"/>
<circle cx="1381.8" cy="644.6" r="6.6"/>
<circle cx="1383.3" cy="644.1" r="6.6"/>
<circle cx="1384.9" cy="646.9" r="6.6"/>
<circle cx="1386.5" cy="643.3" r="6.6"/>
<circle cx="1388.0" cy="647.7" r="6.6"/>
<circle cx="1389.5" cy="646.2" r="6.6"/>
<circle cx="1391.1" cy="646.2" r="6.6"/>
<circle cx="1392.7" cy="648.5" r="6.6"/>
<circle cx="1394.2" cy="645.7" r="6.6"/>
<circle cx="1395.8" cy="643.0" r="6.6"/>
<circle cx="1397.3" cy="648.4" r="6.6"/>
<circle cx="1398.8" cy="644.9" r="6.6"/>
<circle cx="1400.4" cy="646.8" r="6.6"/>
<circle cx="1402.0" cy="643.3" r="6.6"/>
<circle cx="1403.5" cy="645.6" r="6.6"/>
<circle cx="1405.0" cy="645.3" r="6.6"/>
<circle cx="1406.6" cy="645.3" r="6.6"/>
<circle cx="1408.2" cy="646.1" r="6.6"/>
<circle cx="1409.7" cy="649.1" r="6.6"/>
<circle cx="1411.2" cy="644.0" r="6.6"/>
<circle cx="1412.8" cy="649.0" r="6.6"/>
<circle cx="1414.3" cy="646.1" r="6.6"/>
<circle cx="1415.9" cy="645.4" r="6.6"/>
<circle cx="1417.5" cy="648.0" r="6.6"/>
<circle cx="1419.0" cy="646.3" r="6.6"/>
<circle cx="1420.5" cy="644.4" r="6.6"/>
<circle cx="1422.1" cy="646.6" r="6.6"/>
<circle cx="1423.7" cy="648.1" r="6.6"/>
<circle cx="1425.2" cy="651.8" r="6.6"/>
<circle cx="1426.8" cy="648.3" r="6.6"/>
<circle cx="1428.3" cy="647.6" r="6.6"/>
<circle cx="1429.8" cy="647.5" r="6.6"/>
<circle cx="1431.4" cy="648.3" r="6.6"/>
<circle cx="1433.0" cy="645.8" r="6.6"/>
<circle cx="1434.5" cy="647.6" r="6.6"/>
<circle cx="1436.0" cy="646.7" r="6.6"/>
<circle cx="1437.6" cy="645.3" r="6.6"/>
<circle cx="1439.2" cy="648.1" r="6.6"/>
<circle cx="1440.7" cy="647.1" r="6.6"/>
<circle cx="1442.2" cy="642.6" r="6.6"/>
<circle cx="1443.8" cy="644.9" r="6.6"/>
<circle cx="1445.3" cy="648.9" r="6.6"/>
<circle cx="1446.9" cy="646.7" r="6.6"/>
<circle cx="1448.5" cy="645.5" r="6.6"/>
<circle cx="1450.0" cy="644.3" r="6.6"/>
<circle cx="1451.5" cy="646.3" r="6.6"/>
<circle cx="1453.1" cy="647.5" r="6.6"/>
<circle cx="1454.7" cy="647.9" r="6.6"/>
<circle cx="1456.2" cy="645.4" r="6.6"/>
<circle cx="1457.8" cy="646.0" r="6.6"/>
<circle cx="1459.3" cy="647.5" r="6.6"/>
<circle cx="1460.8" cy="646.9" r="6.6"/>
<circle cx="1462.4" cy="647.3" r="6.6"/>
<circle cx="1464.0" cy="645.2" r="6.6"/>
<circle cx="1465.5" cy="647.8" r="6.6"/>
<circle cx="1467.0" cy="645.7" r="6.6"/>
<circle cx="1468.6" cy="645.0" r="6.6"/>
<circle cx="1470.2" cy="645.7" r="6.6"/>
<circle cx="1471.7" cy="648.1" r="6.6"/>
<circle cx="1473.2" cy="644.1" r="6.6"/>
<circle cx="1474.8" cy="647.8" r="6.6"/>
<circle cx="1476.3" cy="645.8" r="6.6"/>
<circle cx="1477.9" cy="647.9" r="6.6"/>
<circle cx="1479.5" cy="649.8" r="6.6"/>
<circle cx="1481.0" cy="646.2" r="6.6"/>
<circle cx="1482.5" cy="646.1" r="6.6"/>
<circle cx="1484.1" cy="646.7" r="6.6"/>
<circle cx="1485.7" cy="646.1" r="6.6"/>
<circle cx="1487.2" cy="647.8" r="6.6"/>
<circle cx="1488.8" cy="647.9" r="6.6"/>
<circle cx="1490.3" cy="646.9" r="6.6"/>
<circle cx="1491.8" cy="643.1" r="6.6"/>
<circle cx="1493.4" cy="645.1" r="6.6"/>
<circle cx="1495.0" cy="647.6" r="6.6"/>
<circle cx="1496.5" cy="645.6" r="6.6"/>
<circle cx="1498.0" cy="647.5" r="6.6"/>
<circle cx="1499.6" cy="647.5" r="6.6"/>
<circle cx="1501.2" cy="645.1" r="6.6"/>
<circle cx="1502.7" cy="647.6" r="6.6"/>
<circle cx="1504.2" cy="649.7" r="6.6"/>
<circle cx="1505.8" cy="648.3" r="6.6"/>
<circle cx="1507.3" cy="646.5" r="6.6"/>
<circle cx="1508.9" cy="646.4" r="6.6"/>
<circle cx="1510.5" cy="644.4" r="6.6"/>
<circle cx="1512.0" cy="648.0" r="6.6"/>
<circle cx="1513.5" cy="645.3" r="6.6"/>
<circle cx="1515.1" cy="645.9" r="6.6"/>
<circle cx="1516.7" cy="647.0" r="6.6"/>
<circle cx="1518.2" cy="645.2" r="6.6"/>
<circle cx="1519.8" cy="645.8" r="6.6"/>
<circle cx="1521.3" cy="648.3" r="6.6"/>
<circle cx="1522.8" cy="644.8" r="6.6"/>
<circle cx="1524.4" cy="648.9" r="6.6"/>
<circle cx="1526.0" cy="646.6" r="6.6"/>
<circle cx="1527.5" cy="646.7" r="6.6"/>
<circle cx="1529.0" cy="646.0" r="6.6"/>
<circle cx="1530.6" cy="648.1" r="6.6"/>
<circle cx="1532.2" cy="646.8" r="6.6"/>
<circle cx="1533.7" cy="647.0" r="6.6"/>
<circle cx="1535.2" cy="645.0" r="6.6"/>
<circle cx="1536.8" cy="648.2" r="6.6"/>
<circle cx="1538.3" cy="646.7" r="6.6"/>
<circle cx="1539.9" cy="647.3" r="6.6"/>
<circle cx="1541.5" cy="649.2" r="6.6"/>
<circle cx="1543.0" cy="642.0" r="6.6"/>
<circle cx="1544.5" cy="647.0" r="6.6"/>
<circle cx="1546.1" cy="649.5" r="6.6"/>
<circle cx="1547.7" cy="644.3" r="6.6"/>
<circle cx="1549.2" cy="648.8" r="6.6"/>
<circle cx="1550.8" cy="646.2" r="6.6"/>
<circle cx="1552.3" cy="645.3" r="6.6"/>
<circle cx="1553.8" cy="648.1" r="6.6"/>
<circle cx="1555.4" cy="647.7" r="6.6"/>
<circle cx="1557.0" cy="647.9" r="6.6"/>
<circle cx="1558.5" cy="647.2" r="6.6"/>
<circle cx="1560.0" cy="649.9" r="6.6"/>
<circle cx="1561.6" cy="649.2" r="6.6"/>
<circle cx="1563.2" cy="647.2" r="6.6"/>
<circle cx="1564.7" cy="645.1" r="6.6"/>
<circle cx="1566.2" cy="645.8" r="6.6"/>
<circle cx="1567.8" cy="643.8" r="6.6"/>
<circle cx="1569.3" cy="645.7" r="6.6"/>
<circle cx="1570.9" cy="647.9" r="6.6"/>
<circle cx="1572.5" cy="647.2" r="6.6"/>
<circle cx="1574.0" cy="650.7" r="6.6"/>
<circle cx="1575.5" cy="648.8" r="6.6"/>
<circle cx="1577.1" cy="648.9" r="6.6"/>
<circle cx="1578.7" cy="646.6" r="6.6"/>
<circle cx="1580.2" cy="645.9" r="6.6"/>
<circle cx="1581.8" cy="648.1" r="6.6"/>
<circle cx="1583.3" cy="648.2" r="6.6"/>
<circle cx="1584.8" cy="649.9" r="6.6"/>
<circle cx="1586.4" cy="647.4" r="6.6"/>
<circle cx="1588.0" cy="646.7" r="6.6"/>
<circle cx="1589.5" cy="646.4" r="6.6"/>
<circle cx="1591.1" cy="648.6" r="6.6"/>
<circle cx="1592.6" cy="643.6" r="6.6"/>
<circle cx="1594.2" cy="645.0" r="6.6"/>
<circle cx="1595.7" cy="647.4" r="6.6"/>
<circle cx="1597.2" cy="648.2" r="6.6"/>
<circle cx="1598.8" cy="647.9" r="6.6"/>
<circle cx="1600.3" cy="647.0" r="6.6"/>
<circle cx="1601.9" cy="647.3" r="6.6"/>
<circle cx="1603.4" cy="646.4" r="6.6"/>
<circle cx="1605.0" cy="645.9" r="6.6"/>
<circle cx="1606.6" cy="644.9" r="6.6"/>
<circle cx="1608.1" cy="645.3" r="6.6"/>
<circle cx="1609.7" cy="647.6" r="6.6"/>
<circle cx="1611.2" cy="646.7" r="6.6"/>
<circle cx="1612.8" cy="648.1" r="6.6"/>
<circle cx="1614.3" cy="648.5" r="6.6"/>
<circle cx="1615.8" cy="644.0" r="6.6"/>
<circle cx="1617.4" cy="648.3" r="6.6"/>
<circle cx="1618.9" cy="643.9" r="6.6"/>
<circle cx="1620.5" cy="648.2" r="6.6"/>
<circle cx="1622.1" cy="647.1" r="6.6"/>
<circle cx="1623.6" cy="645.6" r="6.6"/>
<circle cx="1625.2" cy="647.5" r="6.6"/>
<circle cx="1626.7" cy="646.9" r="6.6"/>
<circle cx="1628.2" cy="648.1" r="6.6"/>
<circle cx="1629.8" cy="648.5" r="6.6"/>
<circle cx="1631.3" cy="648.0" r="6.6"/>
<circle cx="1632.9" cy="648.9" r="6.6"/>
<circle cx="1634.4" cy="644.8" r="6.6"/>
<circle cx="1636.0" cy="648.0" r="6.6"/>
<circle cx="1637.6" cy="644.6" r="6.6"/>
<circle cx="1639.1" cy="652.7" r="6.6"/>
<circle cx="1640.7" cy="647.8" r="6.6"/>
<circle cx="1642.2" cy="646.8" r="6.6"/>
<circle cx="1643.8" cy="648.4" r="6.6"/>
<circle cx="1645.3" cy="645.9" r="6.6"/>
<circle cx="1646.8" cy="646.7" r="6.6"/>
<circle cx="1648.4" cy="648.4" r="6.6"/>
<circle cx="1649.9" cy="647.2" r="6.6"/>
<circle cx="1651.5" cy="642.9" r="6.6"/>
<circle cx="1653.1" cy="647.6" r="6.6"/>
<circle cx="1654.6" cy="647.5" r="6.6"/>
<circle cx="1656.2" cy="648.9" r="6.6"/>
<circle cx="1657.7" cy="647.9" r="6.6"/>
<circle cx="1659.2" cy="650.5" r="6.6"/>
<circle cx="1660.8" cy="648.5" r="6.6"/>
<circle cx="1662.3" cy="643.7" r="6.6"/>
<circle cx="1663.9" cy="646.3" r="6.6"/>
<circle cx="1665.4" cy="647.1" r="6.6"/>
<circle cx="1667.0" cy="646.3" r="6.6"/>
<circle cx="1668.6" cy="644.9" r="6.6"/>
<circle cx="1670.1" cy="647.2" r="6.6"/>
<circle cx="1671.7" cy="644.6" r="6.6"/>
<circle cx="1673.2" cy="646.4" r="6.6"/>
<circle cx="1674.8" cy="648.1" r="6.6"/>
<circle cx="1676.3" cy="645.3" r="6.6"/>
<circle cx="1677.8" cy="652.8" r="6.6"/>
<circle cx="1679.4" cy="649.5" r="6.6"/>
<circle cx="1680.9" cy="648.1" r="6.6"/>
<circle cx="1682.5" cy="650.2" r="6.6"/>
<circle cx="1684.1" cy="648.9" r="6.6"/>
<circle cx="1685.6" cy="649.8" r="6.6"/>
<circle cx="1687.2" cy="649.9" r="6.6"/>
<circle cx="1688.7" cy="643.8" r="6.6"/>
<circle cx="1690.2" cy="647.6" r="6.6"/>
<circle cx="1691.8" cy="648.9" r="6.6"/>
<circle cx="1693.3" cy="646.4" r="6.6"/>
<circle cx="1694.9" cy="649.3" r="6.6"/>
<circle cx="1696.4" cy="647.3" r="6.6"/>
<circle cx="1698.0" cy="648.3" r="6.6"/>
<circle cx="1699.6" cy="646.0" r="6.6"/>
<circle cx="1701.1" cy="649.0" r="6.6"/>
</g>
<g fill="#0000ff" stroke="none" stroke-width="0">
<circle cx="1078.0" cy="652.3" r="7.0"/>
<circle cx="1079.5" cy="651.3" r="7.0"/>
<circle cx="1081.1" cy="650.2" r="7.0"/>
<circle cx="1082.7" cy="649.1" r="7.0"/>
<circle cx="1084.2" cy="647.9" r="7.0"/>
<circle cx="1085.8" cy="646.7" r="7.0"/>
<circle cx="1087.3" cy="645.5" r="7.0"/>
<circle cx="1088.8" cy="644.2" r="7.0"/>
<circle cx="1090.4" cy="642.9" r="7.0"/>
<circle cx="1092.0" cy="641.5" r="7.0"/>
<circle cx="1093.5" cy="640.1" r="7.0"/>
<circle cx="1095.0" cy="638.7" r="7.0"/>
<circle cx="1096.6" cy="637.2" r="7.0"/>
<circle cx="1098.2" cy="635.7" r="7.0"/>
<circle cx="1099.7" cy="634.1" r="7.0"/>
<circle cx="1101.2" cy="632.5" r="7.0"/>
<circle cx="1102.8" cy="630.9" r="7.0"/>
<circle cx="1104.3" cy="629.2" r="7.0"/>
<circle cx="1105.9" cy="627.4" r="7.0"/>
<circle cx="1107.5" cy="625.6" r="7.0"/>
<circle cx="1109.0" cy="623.7" r="7.0"/>
<circle cx="1110.5" cy="621.8" r="7.0"/>
<circle cx="1112.1" cy="619.8" r="7.0"/>
<circle cx="1113.7" cy="617.7" r="7.0"/>
<circle cx="1115.2" cy="615.6" r="7.0"/>
<circle cx="1116.8" cy="613.5" r="7.0"/>
<circle cx="1118.3" cy="611.2" r="7.0"/>
<circle cx="1119.8" cy="608.9" r="7.0"/>
<circle cx="1121.4" cy="606.5" r="7.0"/>
<circle cx="1123.0" cy="603.9" r="7.0"/>
<circle cx="1124.5" cy="601.2" r="7.0"/>
<circle cx="1126.0" cy="598.4" r="7.0"/>
<circle cx="1127.6" cy="595.3" r="7.0"/>
<circle cx="1133.8" cy="580.0" r="7.0"/>
<circle cx="1140.0" cy="561.8" r="7.0"/>
<circle cx="1146.2" cy="544.2" r="7.0"/>
<circle cx="1152.4" cy="516.0" r="7.0"/>
<circle cx="1158.6" cy="497.9" r="7.0"/>
<circle cx="1164.8" cy="472.9" r="7.0"/>
<circle cx="1171.0" cy="450.9" r="7.0"/>
<circle cx="1177.2" cy="426.7" r="7.0"/>
<circle cx="1183.4" cy="407.8" r="7.0"/>
<circle cx="1189.6" cy="385.2" r="7.0"/>
<circle cx="1195.8" cy="367.1" r="7.0"/>
<circle cx="1202.0" cy="348.5" r="7.0"/>
<circle cx="1208.2" cy="330.8" r="7.0"/>
<circle cx="1214.4" cy="312.3" r="7.0"/>
<circle cx="1220.6" cy="296.8" r="7.0"/>
<circle cx="1226.8" cy="282.9" r="7.0"/>
<circle cx="1233.0" cy="268.1" r="7.0"/>
<circle cx="1234.5" cy="264.4" r="7.0"/>
<circle cx="1236.1" cy="260.6" r="7.0"/>
<circle cx="1237.7" cy="256.9" r="7.0"/>
<circle cx="1239.2" cy="253.3" r="7.0"/>
<circle cx="1240.8" cy="249.7" r="7.0"/>
<circle cx="1242.3" cy="246.2" r="7.0"/>
<circle cx="1243.8" cy="242.7" r="7.0"/>
<circle cx="1245.4" cy="239.5" r="7.0"/>
<circle cx="1247.0" cy="236.4" r="7.0"/>
<circle cx="1248.5" cy="233.5" r="7.0"/>
<circle cx="1250.0" cy="230.6" r="7.0"/>
<circle cx="1251.6" cy="227.8" r="7.0"/>
<circle cx="1253.2" cy="225.1" r="7.0"/>
<circle cx="1254.7" cy="222.6" r="7.0"/>
<circle cx="1256.2" cy="220.2" r="7.0"/>
<circle cx="1257.8" cy="218.2" r="7.0"/>
<circle cx="1259.3" cy="216.3" r="7.0"/>
<circle cx="1260.9" cy="214.7" r="7.0"/>
<circle cx="1262.5" cy="213.2" r="7.0"/>
<circle cx="1264.0" cy="211.8" r="7.0"/>
<circle cx="1265.5" cy="210.4" r="7.0"/>
<circle cx="1267.1" cy="209.1" r="7.0"/>
<circle cx="1268.7" cy="207.9" r="7.0"/>
<circle cx="1270.2" cy="206.5" r="7.0"/>
<circle cx="1271.8" cy="205.1" r="7.0"/>
<circle cx="1273.3" cy="203.7" r="7.0"/>
<circle cx="1274.8" cy="202.1" r="7.0"/>
<circle cx="1276.4" cy="200.5" r="7.0"/>
<circle cx="1278.0" cy="199.0" r="7.0"/>
<circle cx="1279.5" cy="197.6" r="7.0"/>
<circle cx="1281.0" cy="196.4" r="7.0"/>
<circle cx="1282.6" cy="195.4" r="7.0"/>
<circle cx="1284.2" cy="194.6" r="7.0"/>
<circle cx="1285.7" cy="193.8" r="7.0"/>
<circle cx="1287.2" cy="193.1" r="7.0"/>
<circle cx="1288.8" cy="192.4" r="7.0"/>
<circle cx="1290.3" cy="191.8" r="7.0"/>
<circle cx="1291.9" cy="191.3" r="7.0"/>
<circle cx="1293.5" cy="190.7" r="7.0"/>
<circle cx="1295.0" cy="190.2" r="7.0"/>
<circle cx="1296.5" cy="189.7" r="7.0"/>
<circle cx="1298.1" cy="189.3" r="7.0"/>
<circle cx="1299.7" cy="188.8" r="7.0"/>
<circle cx="1301.2" cy="188.3" r="7.0"/>
<circle cx="1302.8" cy="187.8" r="7.0"/>
<circle cx="1304.3" cy="187.3" r="7.0"/>
<circle cx="1305.8" cy="186.8" r="7.0"/>
<circle cx="1307.4" cy="186.3" r="7.0"/>
<circle cx="1309.0" cy="185.8" r="7.0"/>
<circle cx="1310.5" cy="185.3" r="7.0"/>
<circle cx="1312.0" cy="184.9" r="7.0"/>
<circle cx="1313.6" cy="184.4" r="7.0"/>
<circle cx="1315.2" cy="183.4" r="7.0"/>
<circle cx="1316.7" cy="185.2" r="7.0"/>
<circle cx="1318.2" cy="182.5" r="7.0"/>
<circle cx="1319.8" cy="183.8" r="7.0"/>
<circle cx="1321.3" cy="185.3" r="7.0"/>
<circle cx="1322.9" cy="183.9" r="7.0"/>
<circle cx="1324.5" cy="182.0" r="7.0"/>
<circle cx="1326.0" cy="182.3" r="7.0"/>
<circle cx="1327.5" cy="184.4" r="7.0"/>
<circle cx="1329.1" cy="181.8" r="7.0"/>
<circle cx="1330.7" cy="182.7" r="7.0"/>
<circle cx="1332.2" cy="181.9" r="7.0"/>
<circle cx="1333.8" cy="182.0" r="7.0"/>
<circle cx="1335.3" cy="184.1" r="7.0"/>
<circle cx="1336.8" cy="181.9" r="7.0"/>
<circle cx="1338.4" cy="183.2" r="7.0"/>
<circle cx="1340.0" cy="180.1" r="7.0"/>
<circle cx="1341.5" cy="181.2" r="7.0"/>
<circle cx="1343.0" cy="182.1" r="7.0"/>
<circle cx="1344.6" cy="183.5" r="7.0"/>
<circle cx="1346.2" cy="182.0" r="7.0"/>
<circle cx="1347.7" cy="181.8" r="7.0"/>
<circle cx="1349.2" cy="183.7" r="7.0"/>
<circle cx="1350.8" cy="178.8" r="7.0"/>
<circle cx="1352.3" cy="181.4" r="7.0"/>
<circle cx="1353.9" cy="179.5" r="7.0"/>
<circle cx="1355.5" cy="183.4" r="7.0"/>
<circle cx="1357.0" cy="179.5" r="7.0"/>
<circle cx="1358.5" cy="183.7" r="7.0"/>
<circle cx="1360.1" cy="182.7" r="7.0"/>
<circle cx="1361.7" cy="181.0" r="7.0"/>
<circle cx="1363.2" cy="181.6" r="7.0"/>
<circle cx="1364.8" cy="185.1" r="7.0"/>
<circle cx="1366.3" cy="183.2" r="7.0"/>
<circle cx="1367.8" cy="180.4" r="7.0"/>
<circle cx="1369.4" cy="178.6" r="7.0"/>
<circle cx="1371.0" cy="180.3" r="7.0"/>
<circle cx="1372.5" cy="182.0" r="7.0"/>
<circle cx="1374.0" cy="180.4" r="7.0"/>
<circle cx="1375.6" cy="183.2" r="7.0"/>
<circle cx="1377.2" cy="180.8" r="7.0"/>
<circle cx="1378.7" cy="183.5" r="7.0"/>
<circle cx="1380.2" cy="181.5" r="7.0"/>
<circle cx="1381.8" cy="181.7" r="7.0"/>
<circle cx="1383.3" cy="180.4" r="7.0"/>
<circle cx="1384.9" cy="182.0" r="7.0"/>
<circle cx="1386.5" cy="179.8" r="7.0"/>
<circle cx="1388.0" cy="181.8" r="7.0"/>
<circle cx="1389.5" cy="180.3" r="7.0"/>
<circle cx="1391.1" cy="180.4" r="7.0"/>
<circle cx="1392.7" cy="184.2" r="7.0"/>
<circle cx="1394.2" cy="181.5" r="7.0"/>
<circle cx="1395.8" cy="181.5" r="7.0"/>
<circle cx="1397.3" cy="182.6" r="7.0"/>
<circle cx="1398.8" cy="181.3" r="7.0"/>
<circle cx="1400.4" cy="183.6" r="7.0"/>
<circle cx="1402.0" cy="180.7" r="7.0"/>
<circle cx="1403.5" cy="180.8" r="7.0"/>
<circle cx="1405.0" cy="181.1" r="7.0"/>
<circle cx="1406.6" cy="178.0" r="7.0"/>
<circle cx="1408.2" cy="181.0" r="7.0"/>
<circle cx="1409.7" cy="181.4" r="7.0"/>
<circle cx="1411.2" cy="182.6" r="7.0"/>
<circle cx="1412.8" cy="181.1" r="7.0"/>
<circle cx="1414.3" cy="182.9" r="7.0"/>
<circle cx="1415.9" cy="179.7" r="7.0"/>
<circle cx="1417.5" cy="182.4" r="7.0"/>
<circle cx="1419.0" cy="181.3" r="7.0"/>
<circle cx="1420.5" cy="178.7" r="7.0"/>
<circle cx="1422.1" cy="179.8" r="7.0"/>
<circle cx="1423.7" cy="181.2" r="7.0"/>
<circle cx="1425.2" cy="179.5" r="7.0"/>
<circle cx="1426.8" cy="181.6" r="7.0"/>
<circle cx="1428.3" cy="180.4" r="7.0"/>
<circle cx="1429.8" cy="181.5" r="7.0"/>
<circle cx="1431.4" cy="182.8" r="7.0"/>
<circle cx="1433.0" cy="180.9" r="7.0"/>
<circle cx="1434.5" cy="180.2" r="7.0"/>
<circle cx="1436.0" cy="182.0" r="7.0"/>
<circle cx="1437.6" cy="183.1" r="7.0"/>
<circle cx="1439.2" cy="182.3" r="7.0"/>
<circle cx="1440.7" cy="184.9" r="7.0"/>
<circle cx="1442.2" cy="182.4" r="7.0"/>
<circle cx="1443.8" cy="183.1" r="7.0"/>
<circle cx="1445.3" cy="178.6" r="7.0"/>
<circle cx="1446.9" cy="182.3" r="7.0"/>
<circle cx="1448.5" cy="183.7" r="7.0"/>
<circle cx="1450.0" cy="180.3" r="7.0"/>
<circle cx="1451.5" cy="181.8" r="7.0"/>
<circle cx="1453.1" cy="181.4" r="7.0"/>
<circle cx="1454.7" cy="181.2" r="7.0"/>
<circle cx="1456.2" cy="181.2" r="7.0"/>
<circle cx="1457.8" cy="182.1" r="7.0"/>
<circle cx="1459.3" cy="180.1" r="7.0"/>
<circle cx="1460.8" cy="180.8" r="7.0"/>
<circle cx="1462.4" cy="182.2" r="7.0"/>
<circle cx="1464.0" cy="181.8" r="7.0"/>
<circle cx="1465.5" cy="182.9" r="7.0"/>
<circle cx="1467.0" cy="181.1" r="7.0"/>
<circle cx="1468.6" cy="180.5" r="7.0"/>
<circle cx="1470.2" cy="180.6" r="7.0"/>
<circle cx="1471.7" cy="180.6" r="7.0"/>
<circle cx="1473.2" cy="181.7" r="7.0"/>
<circle cx="1474.8" cy="179.2" r="7.0"/>
<circle cx="1476.3" cy="181.8" r="7.0"/>
<circle cx="1477.9" cy="181.5" r="7.0"/>
<circle cx="1479.5" cy="182.0" r="7.0"/>
<circle cx="1481.0" cy="181.4" r="7.0"/>
<circle cx="1482.5" cy="181.9" r="7.0"/>
<circle cx="1484.1" cy="178.6" r="7.0"/>
<circle cx="1485.7" cy="180.9" r="7.0"/>
<circle cx="1487.2" cy="183.9" r="7.0"/>
<circle cx="1488.8" cy="182.1" r="7.0"/>
<circle cx="1490.3" cy="183.5" r="7.0"/>
<circle cx="1491.8" cy="180.3" r="7.0"/>
<circle cx="1493.4" cy="179.5" r="7.0"/>
<circle cx="1495.0" cy="182.2" r="7.0"/>
<circle cx="1496.5" cy="180.6" r="7.0"/>
<circle cx="1498.0" cy="181.8" r="7.0"/>
<circle cx="1499.6" cy="180.9" r="7.0"/>
<circle cx="1501.2" cy="179.0" r="7.0"/>
<circle cx="1502.7" cy="182.0" r="7.0"/>
<circle cx="1504.2" cy="183.3" r="7.0"/>
<circle cx="1505.8" cy="180.5" r="7.0"/>
<circle cx="1507.3" cy="180.8" r="7.0"/>
<circle cx="1508.9" cy="180.5" r="7.0"/>
<circle cx="1510.5" cy="180.0" r="7.0"/>
<circle cx="1512.0" cy="182.5" r="7.0"/>
<circle cx="1513.5" cy="184.3" r="7.0"/>
<circle cx="1515.1" cy="180.0" r="7.0"/>
<circle cx="1516.7" cy="182.1" r="7.0"/>
<circle cx="1518.2" cy="183.2" r="7.0"/>
<circle cx="1519.8" cy="183.2" r="7.0"/>
<circle cx="1521.3" cy="179.9" r="7.0"/>
<circle cx="1522.8" cy="181.3" r="7.0"/>
<circle cx="1524.4" cy="181.1" r="7.0"/>
<circle cx="1526.0" cy="180.3" r="7.0"/>
<circle cx="1527.5" cy="182.5" r="7.0"/>
<circle cx="1529.0" cy="183.1" r="7.0"/>
<circle cx="1530.6" cy="182.7" r="7.0"/>
<circle cx="1532.2" cy="183.1" r="7.0"/>
<circle cx="1533.7" cy="181.9" r="7.0"/>
<circle cx="1535.2" cy="182.8" r="7.0"/>
<circle cx="1536.8" cy="181.5" r="7.0"/>
<circle cx="1538.3" cy="182.2" r="7.0"/>
<circle cx="1539.9" cy="181.6" r="7.0"/>
<circle cx="1541.5" cy="180.6" r="7.0"/>
<circle cx="1543.0" cy="179.5" r="7.0"/>
<circle cx="1544.5" cy="179.3" r="7.0"/>
<circle cx="1546.1" cy="181.3" r="7.0"/>
<circle cx="1547.7" cy="181.2" r="7.0"/>
<circle cx="1549.2" cy="182.2" r="7.0"/>
<circle cx="1550.8" cy="180.1" r="7.0"/>
<circle cx="1552.3" cy="179.3" r="7.0"/>
<circle cx="1553.8" cy="182.4" r="7.0"/>
<circle cx="1555.4" cy="180.4" r="7.0"/>
<circle cx="1557.0" cy="182.0" r="7.0"/>
<circle cx="1558.5" cy="181.8" r="7.0"/>
<circle cx="1560.0" cy="181.2" r="7.0"/>
<circle cx="1561.6" cy="182.1" r="7.0"/>
<circle cx="1563.2" cy="180.2" r="7.0"/>
<circle cx="1564.7" cy="183.7" r="7.0"/>
<circle cx="1566.2" cy="182.5" r="7.0"/>
<circle cx="1567.8" cy="181.7" r="7.0"/>
<circle cx="1569.3" cy="183.0" r="7.0"/>
<circle cx="1570.9" cy="181.0" r="7.0"/>
<circle cx="1572.5" cy="183.7" r="7.0"/>
<circle cx="1574.0" cy="181.4" r="7.0"/>
<circle cx="1575.5" cy="183.6" r="7.0"/>
<circle cx="1577.1" cy="181.7" r="7.0"/>
<circle cx="1578.7" cy="180.8" r="7.0"/>
<circle cx="1580.2" cy="178.4" r="7.0"/>
<circle cx="1581.8" cy="180.0" r="7.0"/>
<circle cx="1583.3" cy="179.2" r="7.0"/>
<circle cx="1584.8" cy="181.4" r="7.0"/>
<circle cx="1586.4" cy="178.5" r="7.0"/>
<circle cx="1588.0" cy="181.9" r="7.0"/>
<circle cx="1589.5" cy="181.9" r="7.0"/>
<circle cx="1591.1" cy="183.4" r="7.0"/>
<circle cx="1592.6" cy="181.2" r="7.0"/>
<circle cx="1594.2" cy="180.0" r="7.0"/>
<circle cx="1595.7" cy="182.4" r="7.0"/>
<circle cx="1597.2" cy="182.0" r="7.0"/>
<circle cx="1598.8" cy="182.2" r="7.0"/>
<circle cx="1600.3" cy="182.0" r="7.0"/>
<circle cx="1601.9" cy="182.4" r="7.0"/>
<circle cx="1603.4" cy="183.5" r="7.0"/>
<circle cx="1605.0" cy="179.5" r="7.0"/>
<circle cx="1606.6" cy="184.3" r="7.0"/>
<circle cx="1608.1" cy="182.8" r="7.0"/>
<circle cx="1609.7" cy="181.0" r="7.0"/>
<circle cx="1611.2" cy="180.1" r="7.0"/>
<circle cx="1612.8" cy="181.8" r="7.0"/>
<circle cx="1614.3" cy="181.9" r="7.0"/>
<circle cx="1615.8" cy="181.4" r="7.0"/>
<circle cx="1617.4" cy="181.9" r="7.0"/>
<circle cx="1618.9" cy="180.3" r="7.0"/>
<circle cx="1620.5" cy="182.2" r="7.0"/>
<circle cx="1622.1" cy="182.9" r="7.0"/>
<circle cx="1623.6" cy="182.2" r="7.0"/>
<circle cx="1625.2" cy="181.4" r="7.0"/>
<circle cx="1626.7" cy="179.7" r="7.0"/>
<circle cx="1628.2" cy="179.2" r="7.0"/>
<circle cx="1629.8" cy="182.1" r="7.0"/>
<circle cx="1631.3" cy="183.6" r="7.0"/>
<circle cx="1632.9" cy="183.5" r="7.0"/>
<circle cx="1634.4" cy="178.5" r="7.0"/>
<circle cx="1636.0" cy="182.1" r="7.0"/>
<circle cx="1637.6" cy="180.9" r="7.0"/>
<circle cx="1639.1" cy="178.8" r="7.0"/>
<circle cx="1640.7" cy="182.5" r="7.0"/>
<circle cx="1642.2" cy="181.8" r="7.0"/>
<circle cx="1643.8" cy="182.3" r="7.0"/>
<circle cx="1645.3" cy="183.1" r="7.0"/>
<circle cx="1646.8" cy="180.4" r="7.0"/>
<circle cx="1648.4" cy="180.0" r="7.0"/>
<circle cx="1649.9" cy="184.2" r="7.0"/>
<circle cx="1651.5" cy="180.1" r="7.0"/>
<circle cx="1653.1" cy="181.9" r="7.0"/>
<circle cx="1654.6" cy="181.3" r="7.0"/>
<circle cx="1656.2" cy="181.2" r="7.0"/>
<circle cx="1657.7" cy="183.4" r="7.0"/>
<circle cx="1659.2" cy="182.0" r="7.0"/>
<circle cx="1660.8" cy="182.9" r="7.0"/>
<circle cx="1662.3" cy="178.8" r="7.0"/>
<circle cx="1663.9" cy="178.4" r="7.0"/>
<circle cx="1665.4" cy="181.4" r="7.0"/>
<circle cx="1667.0" cy="183.2" r="7.0"/>
<circle cx="1668.6" cy="179.9" r="7.0"/>
<circle cx="1670.1" cy="181.8" r="7.0"/>
<circle cx="1671.7" cy="179.0" r="7.0"/>
<circle cx="1673.2" cy="178.7" r="7.0"/>
<circle cx="1674.8" cy="179.1" r="7.0"/>
<circle cx="1676.3" cy="182.1" r="7.0"/>
<circle cx="1677.8" cy="182.9" r="7.0"/>
<circle cx="1679.4" cy="182.5" r="7.0"/>
<circle cx="1680.9" cy="181.7" r="7.0"/>
<circle cx="1682.5" cy="182.8" r="7.0"/>
<circle cx="1684.1" cy="179.8" r="7.0"/>
<circle cx="1685.6" cy="180.6" r="7.0"/>
<circle cx="1687.2" cy="181.6" r="7.0"/>
<circle cx="1688.7" cy="182.1" r="7.0"/>
<circle cx="1690.2" cy="180.6" r="7.0"/>
<circle cx="1691.8" cy="179.5" r="7.0"/>
<circle cx="1693.3" cy="184.3" r="7.0"/>
<circle cx="1694.9" cy="181.2" r="7.0"/>
<circle cx="1696.4" cy="181.9" r="7.0"/>
<circle cx="1698.0" cy="182.6" r="7.0"/>
<circle cx="1699.6" cy="181.5" r="7.0"/>
</g>
<polyline points="1078.0,179.6 1084.2,214.0 1090.4,250.9 1096.6,285.0 1102.8,326.0 1109.0,363.8 1115.2,405.9 1121.4,440.3 1127.6,485.8 1133.8,523.2 1140.0,561.7 1146.2,603.6 1152.4,645.1 1158.6,684.8 1164.8,725.0 1171.0,763.1 1177.2,791.4 1183.4,822.1 1189.6,852.7 1195.8,879.5 1202.0,903.9 1208.2,924.5 1214.4,947.0 1220.6,966.6 1226.8,985.7 1233.0,1002.9 1239.2,1016.8 1245.4,1031.2 1251.6,1044.9 1257.8,1056.8 1259.3,1059.7 1260.9,1062.7 1262.5,1065.7 1264.0,1068.6 1265.5,1071.4 1267.1,1074.1 1268.7,1076.8 1270.2,1079.5 1271.8,1082.0 1273.3,1084.5 1274.8,1086.8 1276.4,1088.9 1278.0,1091.0 1279.5,1092.9 1281.0,1094.8 1282.6,1096.6 1284.2,1098.3 1285.7,1099.8 1287.2,1101.3 1288.8,1102.7 1290.3,1104.0 1291.9,1105.3 1293.5,1106.5 1295.0,1107.6 1296.5,1108.7 1298.1,1109.7 1299.7,1110.7 1301.2,1111.5 1302.8,1112.3 1304.3,1113.1 1305.8,1113.8 1307.4,1114.5 1309.0,1115.2 1310.5,1115.9 1312.0,1116.5 1313.6,1117.1 1315.2,1117.6 1316.7,1118.1 1318.2,1118.5 1319.8,1118.9 1321.3,1119.2 1322.9,1119.6 1324.5,1119.9 1326.0,1120.2 1327.5,1120.5 1329.1,1120.8 1330.7,1121.0 1332.2,1121.3 1333.8,1121.5 1335.3,1121.8 1336.8,1122.0 1338.4,1121.7 1340.0,1122.8 1341.5,1119.6 1343.0,1123.0 1344.6,1122.7 1346.2,1121.0 1347.7,1124.1 1349.2,1123.7 1350.8,1122.8 1352.3,1123.4 1353.9,1124.5 1355.5,1123.3 1357.0,1123.5 1358.5,1122.4 1360.1,1125.1 1361.7,1124.0 1363.2,1121.8 1364.8,1120.9 1366.3,1125.0 1367.8,1122.4 1369.4,1124.4 1371.0,1124.3 1372.5,1124.3 1374.0,1123.8 1375.6,1122.1 1377.2,1122.4 1378.7,1123.2 1380.2,1123.7 1381.8,1123.3 1383.3,1123.5 1384.9,1122.4 1386.5,1124.1 1388.0,1123.4 1389.5,1123.5 1391.1,1123.5 1392.7,1123.1 1394.2,1123.2 1395.8,1121.9 1397.3,1123.6 1398.8,1121.6 1400.4,1123.9 1402.0,1124.1 1403.5,1123.4 1405.0,1123.1 1406.6,1123.2 1408.2,1122.0 1409.7,1122.2 1411.2,1123.0 1412.8,1124.0 1414.3,1123.7 1415.9,1121.9 1417.5,1123.4 1419.0,1125.2 1420.5,1124.5 1422.1,1124.4 1423.7,1122.3 1425.2,1123.8 1426.8,1121.0 1428.3,1122.9 1429.8,1123.6 1431.4,1124.2 1433.0,1122.6 1434.5,1124.0 1436.0,1124.7 1437.6,1123.1 1439.2,1123.8 1440.7,1122.4 1442.2,1123.9 1443.8,1127.2 1445.3,1122.9 1446.9,1126.1 1448.5,1122.0 1450.0,1121.7 1451.5,1124.4 1453.1,1125.3 1454.7,1125.5 1456.2,1122.8 1457.8,1124.1 1459.3,1124.6 1460.8,1124.2 1462.4,1121.4 1464.0,1123.5 1465.5,1123.0 1467.0,1123.0 1468.6,1122.7 1470.2,1122.7 1471.7,1124.8 1473.2,1124.2 1474.8,1124.9 1476.3,1124.8 1477.9,1122.6 1479.5,1124.6 1481.0,1124.1 1482.5,1124.9 1484.1,1124.7 1485.7,1123.1 1487.2,1124.6 1488.8,1124.6 1490.3,1123.5 1491.8,1123.5 1493.4,1123.1 1495.0,1123.9 1496.5,1126.2 1498.0,1123.3 1499.6,1123.5 1501.2,1122.9 1502.7,1125.1 1504.2,1121.1 1505.8,1125.6 1507.3,1123.3 1508.9,1124.1 1510.5,1124.7 1512.0,1123.2 1513.5,1124.5 1515.1,1127.0 1516.7,1125.6 1518.2,1123.6 1519.8,1121.5 1521.3,1126.0 1522.8,1124.2 1524.4,1122.5 1526.0,1123.5 1527.5,1124.7 1529.0,1125.9 1530.6,1126.3 1532.2,1125.1 1533.7,1124.7 1535.2,1126.9 1536.8,1126.3 1538.3,1123.9 1539.9,1124.7 1541.5,1125.2 1543.0,1124.7 1544.5,1125.2 1546.1,1123.2 1547.7,1122.3 1549.2,1121.8 1550.8,1123.4 1552.3,1123.4 1553.8,1122.5 1555.4,1122.2 1557.0,1122.5 1558.5,1122.8 1560.0,1125.1 1561.6,1126.2 1563.2,1123.3 1564.7,1124.4 1566.2,1124.4 1567.8,1125.4 1569.3,1125.9 1570.9,1122.7 1572.5,1123.8 1574.0,1125.6 1575.5,1123.9 1577.1,1124.0 1578.7,1123.7 1580.2,1121.7 1581.8,1124.4 1583.3,1125.9 1584.8,1124.3 1586.4,1125.1 1588.0,1123.7 1589.5,1124.1 1591.1,1124.0 1592.6,1125.0 1594.2,1123.9 1595.7,1125.0 1597.2,1123.8 1598.8,1124.7 1600.3,1125.7 1601.9,1123.8 1603.4,1125.2 1605.0,1122.7 1606.6,1123.9 1608.1,1123.8 1609.7,1124.3 1611.2,1124.5 1612.8,1127.3 1614.3,1122.9 1615.8,1125.4 1617.4,1123.3 1618.9,1125.2 1620.5,1124.6 1622.1,1124.7 1623.6,1125.6 1625.2,1124.6 1626.7,1123.8 1628.2,1124.9 1629.8,1125.9 1631.3,1125.1 1632.9,1124.1 1634.4,1123.0 1636.0,1123.4 1637.6,1124.1 1639.1,1125.6 1640.7,1123.3 1642.2,1124.4 1643.8,1124.7 1645.3,1123.3 1646.8,1123.7 1648.4,1123.8 1649.9,1125.8 1651.5,1125.2 1653.1,1126.5 1654.6,1124.2 1656.2,1124.4 1657.7,1123.3 1659.2,1124.2 1660.8,1124.9 1662.3,1121.9 1663.9,1125.7 1665.4,1126.0 1667.0,1125.2 1668.6,1123.8 1670.1,1124.9 1671.7,1125.0 1673.2,1125.8 1674.8,1122.7 1676.3,1125.2 1677.8,1125.7 1679.4,1124.6 1680.9,1125.4 1682.5,1124.7 1684.1,1122.8 1685.6,1125.0 1687.2,1124.5 1688.7,1124.9 1690.2,1124.7 1691.8,1123.5 1693.3,1123.8 1694.9,1124.8 1696.4,1125.6 1698.0,1124.6 1699.6,1124.4" fill="none" stroke="#ff0000" stroke-width="4.5" stroke-linejoin="round" />
<g fill="#ff0000" stroke="none" stroke-width="0">
<circle cx="1078.0" cy="179.6" r="7.0"/>
<circle cx="1084.2" cy="214.0" r="7.0"/>
<circle cx="1090.4" cy="250.9" r="7.0"/>
<circle cx="1096.6" cy="285.0" r="7.0"/>
<circle cx="1102.8" cy="326.0" r="7.0"/>
<circle cx="1109.0" cy="363.8" r="7.0"/>
<circle cx="1115.2" cy="405.9" r="7.0"/>
<circle cx="1121.4" cy="440.3" r="7.0"/>
<circle cx="1127.6" cy="485.8" r="7.0"/>
<circle cx="1133.8" cy="523.2" r="7.0"/>
<circle cx="1140.0" cy="561.7" r="7.0"/>
<circle cx="1146.2" cy="603.6" r="7.0"/>
<circle cx="1152.4" cy="645.1" r="7.0"/>
<circle cx="1158.6" cy="684.8" r="7.0"/>
<circle cx="1164.8" cy="725.0" r="7.0"/>
<circle cx="1171.0" cy="763.1" r="7.0"/>
<circle cx="1177.2" cy="791.4" r="7.0"/>
<circle cx="1183.4" cy="822.1" r="7.0"/>
<circle cx="1189.6" cy="852.7" r="7.0"/>
<circle cx="1195.8" cy="879.5" r="7.0"/>
<circle cx="1202.0" cy="903.9" r="7.0"/>
<circle cx="1208.2" cy="924.5" r="7.0"/>
<circle cx="1214.4" cy="947.0" r="7.0"/>
<circle cx="1220.6" cy="966.6" r="7.0"/>
<circle cx="1226.8" cy="985.7" r="7.0"/>
<circle cx="1233.0" cy="1002.9" r="7.0"/>
<circle cx="1239.2" cy="1016.8" r="7.0"/>
<circle cx="1245.4" cy="1031.2" r="7.0"/>
<circle cx="1251.6" cy="1044.9" r="7.0"/>
<circle cx="1257.8" cy="1056.8" r="7.0"/>
<circle cx="1259.3" cy="1059.7" r="7.0"/>
<circle cx="1260.9" cy="1062.7" r="7.0"/>
<circle cx="1262.5" cy="1065.7" r="7.0"/>
<circle cx="1264.0" cy="1068.6" r="7.0"/>
<circle cx="1265.5" cy="1071.4" r="7.0"/>
<circle cx="1267.1" cy="1074.1" r="7.0"/>
<circle cx="1268.7" cy="1076.8" r="7.0"/>
<circle cx="1270.2" cy="1079.5" r="7.0"/>
<circle cx="1271.8" cy="1082.0" r="7.0"/>
<circle cx="1273.3" cy="1084.5" r="7.0"/>
<circle cx="1274.8" cy="1086.8" r="7.0"/>
<circle cx="1276.4" cy="1088.9" r="7.0"/>
<circle cx="1278.0" cy="1091.0" r="7.0"/>
<circle cx="1279.5" cy="1092.9" r="7.0"/>
<circle cx="1281.0" cy="1094.8" r="7.0"/>
<circle cx="1282.6" cy="1096.6" r="7.0"/>
<circle cx="1284.2" cy="1098.3" r="7.0"/>
<circle cx="1285.7" cy="1099.8" r="7.0"/>
<circle cx="1287.2" cy="1101.3" r="7.0"/>
<circle cx="1288.8" cy="1102.7" r="7.0"/>
<circle cx="1290.3" cy="1104.0" r="7.0"/>
<circle cx="1291.9" cy="1105.3" r="7.0"/>
<circle cx="1293.5" cy="1106.5" r="7.0"/>
<circle cx="1295.0" cy="1107.6" r="7.0"/>
<circle cx="1296.5" cy="1108.7" r="7.0"/>
<circle cx="1298.1" cy="1109.7" r="7.0"/>
<circle cx="1299.7" cy="1110.7" r="7.0"/>
<circle cx="1301.2" cy="1111.5" r="7.0"/>
<circle cx="1302.8" cy="1112.3" r="7.0"/>
<circle cx="1304.3" cy="1113.1" r="7.0"/>
<circle cx="1305.8" cy="1113.8" r="7.0"/>
<circle cx="1307.4" cy="1114.5" r="7.0"/>
<circle cx="1309.0" cy="1115.2" r="7.0"/>
<circle cx="1310.5" cy="1115.9" r="7.0"/>
<circle cx="1312.0" cy="1116.5" r="7.0"/>
<circle cx="1313.6" cy="1117.1" r="7.0"/>
<circle cx="1315.2" cy="1117.6" r="7.0"/>
<circle cx="1316.7" cy="1118.1" r="7.0"/>
<circle cx="1318.2" cy="1118.5" r="7.0"/>
<circle cx="1319.8" cy="1118.9" r="7.0"/>
<circle cx="1321.3" cy="1119.2" r="7.0"/>
<circle cx="1322.9" cy="1119.6" r="7.0"/>
<circle cx="1324.5" cy="1119.9" r="7.0"/>
<circle cx="1326.0" cy="1120.2" r="7.0"/>
<circle cx="1327.5" cy="1120.5" r="7.0"/>
<circle cx="1329.1" cy="1120.8" r="7.0"/>
<circle cx="1330.7" cy="1121.0" r="7.0"/>
<circle cx="1332.2" cy="1121.3" r="7.0"/>
<circle cx="1333.8" cy="1121.5" r="7.0"/>
<circle cx="1335.3" cy="1121.8" r="7.0"/>
<circle cx="1336.8" cy="1122.0" r="7.0"/>
<circle cx="1338.4" cy="1121.7" r="7.0"/>
<circle cx="1340.0" cy="1122.8" r="7.0"/>
<circle cx="1341.5" cy="1119.6" r="7.0"/>
<circle cx="1343.0" cy="1123.0" r="7.0"/>
<circle cx="1344.6" cy="1122.7" r="7.0"/>
<circle cx="1346.2" cy="1121.0" r="7.0"/>
<circle cx="1347.7" cy="1124.1" r="7.0"/>
<circle cx="1349.2" cy="1123.7" r="7.0"/>
<circle cx="1350.8" cy="1122.8" r="7.0"/>
<circle cx="1352.3" cy="1123.4" r="7.0"/>
<circle cx="1353.9" cy="1124.5" r="7.0"/>
<circle cx="1355.5" cy="1123.3" r="7.0"/>
<circle cx="1357.0" cy="1123.5" r="7.0"/>
<circle cx="1358.5" cy="1122.4" r="7.0"/>
<circle cx="1360.1" cy="1125.1" r="7.0"/>
<circle cx="1361.7" cy="1124.0" r="7.0"/>
<circle cx="1363.2" cy="1121.8" r="7.0"/>
<circle cx="1364.8" cy="1120.9" r="7.0"/>
<circle cx="1366.3" cy="1125.0" r="7.0"/>
<circle cx="1367.8" cy="1122.4" r="7.0"/>
<circle cx="1369.4" cy="1124.4" r="7.0"/>
<circle cx="1371.0" cy="1124.3" r="7.0"/>
<circle cx="1372.5" cy="1124.3" r="7.0"/>
<circle cx="1374.0" cy="1123.8" r="7.0"/>
<circle cx="1375.6" cy="1122.1" r="7.0"/>
<circle cx="1377.2" cy="1122.4" r="7.0"/>
<circle cx="1378.7" cy="1123.2" r="7.0"/>
<circle cx="1380.2" cy="1123.7" r="7.0"/>
<circle cx="1381.8" cy="1123.3" r="7.0"/>
<circle cx="1383.3" cy="1123.5" r="7.0"/>
<circle cx="1384.9" cy="1122.4" r="7.0"/>
<circle cx="1386.5" cy="1124.1" r="7.0"/>
<circle cx="1388.0" cy="1123.4" r="7.0"/>
<circle cx="1389.5" cy="1123.5" r="7.0"/>
<circle cx="1391.1" cy="1123.5" r="7.0"/>
<circle cx="1392.7" cy="1123.1" r="7.0"/>
<circle cx="1394.2" cy="1123.2" r="7.0"/>
<circle cx="1395.8" cy="1121.9" r="7.0"/>
<circle cx="1397.3" cy="1123.6" r="7.0"/>
<circle cx="1398.8" cy="1121.6" r="7.0"/>
<circle cx="1400.4" cy="1123.9" r="7.0"/>
<circle cx="1402.0" cy="1124.1" r="7.0"/>
<circle cx="1403.5" cy="1123.4" r="7.0"/>
<circle cx="1405.0" cy="1123.1" r="7.0"/>
<circle cx="1406.6" cy="1123.2" r="7.0"/>
<circle cx="1408.2" cy="1122.0" r="7.0"/>
<circle cx="1409.7" cy="1122.2" r="7.0"/>
<circle cx="1411.2" cy="1123.0" r="7.0"/>
<circle cx="1412.8" cy="1124.0" r="7.0"/>
<circle cx="1414.3" cy="1123.7" r="7.0"/>
<circle cx="1415.9" cy="1121.9" r="7.0"/>
<circle cx="1417.5" cy="1123.4" r="7.0"/>
<circle cx="1419.0" cy="1125.2" r="7.0"/>
<circle cx="1420.5" cy="1124.5" r="7.0"/>
<circle cx="1422.1" cy="1124.4" r="7.0"/>
<circle cx="1423.7" cy="1122.3" r="7.0"/>
<circle cx="1425.2" cy="1123.8" r="7.0"/>
<circle cx="1426.8" cy="1121.0" r="7.0"/>
<circle cx="1428.3" cy="1122.9" r="7.0"/>
<circle cx="1429.8" cy="1123.6" r="7.0"/>
<circle cx="1431.4" cy="1124.2" r="7.0"/>
<circle cx="1433.0" cy="1122.6" r="7.0"/>
<circle cx="1434.5" cy="1124.0" r="7.0"/>
<circle cx="1436.0" cy="1124.7" r="7.0"/>
<circle cx="1437.6" cy="1123.1" r="7.0"/>
<circle cx="1439.2" cy="1123.8" r="7.0"/>
<circle cx="1440.7" cy="1122.4" r="7.0"/>
<circle cx="1442.2" cy="1123.9" r="7.0"/>
<circle cx="1443.8" cy="1127.2" r="7.0"/>
<circle cx="1445.3" cy="1122.9" r="7.0"/>
<circle cx="1446.9" cy="1126.1" r="7.0"/>
<circle cx="1448.5" cy="1122.0" r="7.0"/>
<circle cx="1450.0" cy="1121.7" r="7.0"/>
<circle cx="1451.5" cy="1124.4" r="7.0"/>
<circle cx="1453.1" cy="1125.3" r="7.0"/>
<circle cx="1454.7" cy="1125.5" r="7.0"/>
<circle cx="1456.2" cy="1122.8" r="7.0"/>
<circle cx="1457.8" cy="1124.1" r="7.0"/>
<circle cx="1459.3" cy="1124.6" r="7.0"/>
<circle cx="1460.8" cy="1124.2" r="7.0"/>
<circle cx="1462.4" cy="1121.4" r="7.0"/>
<circle cx="1464.0" cy="1123.5" r="7.0"/>
<circle cx="1465.5" cy="1123.0" r="7.0"/>
<circle cx="1467.0" cy="1123.0" r="7.0"/>
<circle cx="1468.6" cy="1122.7" r="7.0"/>
<circle cx="1470.2" cy="1122.7" r="7.0"/>
<circle cx="1471.7" cy="1124.8" r="7.0"/>
<circle cx="1473.2" cy="1124.2" r="7.0"/>
<circle cx="1474.8" cy="1124.9" r="7.0"/>
<circle cx="1476.3" cy="1124.8" r="7.0"/>
<circle cx="1477.9" cy="1122.6" r="7.0"/>
<circle cx="1479.5" cy="1124.6" r="7.0"/>
<circle cx="1481.0" cy="1124.1" r="7.0"/>
<circle cx="1482.5" cy="1124.9" r="7.0"/>
<circle cx="1484.1" cy="1124.7" r="7.0"/>
<circle cx="1485.7" cy="1123.1" r="7.0"/>
<circle cx="1487.2" cy="1124.6" r="7.0"/>
<circle cx="1488.8" cy="1124.6" r="7.0"/>
<circle cx="1490.3" cy="1123.5" r="7.0"/>
<circle cx="1491.8" cy="1123.5" r="7.0"/>
<circle cx="1493.4" cy="1123.1" r="7.0"/>
<circle cx="1495.0" cy="1123.9" r="7.0"/>
<circle cx="1496.5" cy="1126.2" r="7.0"/>
<circle cx="1498.0" cy="1123.3" r="7.0"/>
<circle cx="1499.6" cy="1123.5" r="7.0"/>
<circle cx="1501.2" cy="1122.9" r="7.0"/>
<circle cx="1502.7" cy="1125.1" r="7.0"/>
<circle cx="1504.2" cy="1121.1" r="7.0"/>
<circle cx="1505.8" cy="1125.6" r="7.0"/>
<circle cx="1507.3" cy="1123.3" r="7.0"/>
<circle cx="1508.9" cy="1124.1" r="7.0"/>
<circle cx="1510.5" cy="1124.7" r="7.0"/>
<circle cx="1512.0" cy="1123.2" r="7.0"/>
<circle cx="1513.5" cy="1124.5" r="7.0"/>
<circle cx="1515.1" cy="1127.0" r="7.0"/>
<circle cx="1516.7" cy="1125.6" r="7.0"/>
<circle cx="1518.2" cy="1123.6" r="7.0"/>
<circle cx="1519.8" cy="1121.5" r="7.0"/>
<circle cx="1521.3" cy="1126.0" r="7.0"/>
<circle cx="1522.8" cy="1124.2" r="7.0"/>
<circle cx="1524.4" cy="1122.5" r="7.0"/>
<circle cx="1526.0" cy="1123.5" r="7.0"/>
<circle cx="1527.5" cy="1124.7" r="7.0"/>
<circle cx="1529.0" cy="1125.9" r="7.0"/>
<circle cx="1530.6" cy="1126.3" r="7.0"/>
<circle cx="1532.2" cy="1125.1" r="7.0"/>
<circle cx="1533.7" cy="1124.7" r="7.0"/>
<circle cx="1535.2" cy="1126.9" r="7.0"/>
<circle cx="1536.8" cy="1126.3" r="7.0"/>
<circle cx="1538.3" cy="1123.9" r="7.0"/>
<circle cx="1539.9" cy="1124.7" r="7.0"/>
<circle cx="1541.5" cy="1125.2" r="7.0"/>
<circle cx="1543.0" cy="1124.7" r="7.0"/>
<circle cx="1544.5" cy="1125.2" r="7.0"/>
<circle cx="1546.1" cy="1123.2" r="7.0"/>
<circle cx="1547.7" cy="1122.3" r="7.0"/>
<circle cx="1549.2" cy="1121.8" r="7.0"/>
<circle cx="1550.8" cy="1123.4" r="7.0"/>
<circle cx="1552.3" cy="1123.4" r="7.0"/>
<circle cx="1553.8" cy="1122.5" r="7.0"/>
<circle cx="1555.4" cy="1122.2" r="7.0"/>
<circle cx="1557.0" cy="1122.5" r="7.0"/>
<circle cx="1558.5" cy="1122.8" r="7.0"/>
<circle cx="1560.0" cy="1125.1" r="7.0"/>
<circle cx="1561.6" cy="1126.2" r="7.0"/>
<circle cx="1563.2" cy="1123.3" r="7.0"/>
<circle cx="1564.7" cy="1124.4" r="7.0"/>
<circle cx="1566.2" cy="1124.4" r="7.0"/>
<circle cx="1567.8" cy="1125.4" r="7.0"/>
<circle cx="1569.3" cy="1125.9" r="7.0"/>
<circle cx="1570.9" cy="1122.7" r="7.0"/>
<circle cx="1572.5" cy="1123.8" r="7.0"/>
<circle cx="1574.0" cy="1125.6" r="7.0"/>
<circle cx="1575.5" cy="1123.9" r="7.0"/>
<circle cx="1577.1" cy="1124.0" r="7.0"/>
<circle cx="1578.7" cy="1123.7" r="7.0"/>
<circle cx="1580.2" cy="1121.7" r="7.0"/>
<circle cx="1581.8" cy="1124.4" r="7.0"/>
<circle cx="1583.3" cy="1125.9" r="7.0"/>
<circle cx="1584.8" cy="1124.3" r="7.0"/>
<circle cx="1586.4" cy="1125.1" r="7.0"/>
<circle cx="1588.0" cy="1123.7" r="7.0"/>
<circle cx="1589.5" cy="1124.1" r="7.0"/>
<circle cx="1591.1" cy="1124.0" r="7.0"/>
<circle cx="1592.6" cy="1125.0" r="7.0"/>
<circle cx="1594.2" cy="1123.9" r="7.0"/>
<circle cx="1595.7" cy="1125.0" r="7.0"/>
<circle cx="1597.2" cy="1123.8" r="7.0"/>
<circle cx="1598.8" cy="1124.7" r="7.0"/>
<circle cx="1600.3" cy="1125.7" r="7.0"/>
<circle cx="1601.9" cy="1123.8" r="7.0"/>
<circle cx="1603.4" cy="1125.2" r="7.0"/>
<circle cx="1605.0" cy="1122.7" r="7.0"/>
<circle cx="1606.6" cy="1123.9" r="7.0"/>
<circle cx="1608.1" cy="1123.8" r="7.0"/>
<circle cx="1609.7" cy="1124.3" r="7.0"/>
<circle cx="1611.2" cy="1124.5" r="7.0"/>
<circle cx="1612.8" cy="1127.3" r="7.0"/>
<circle cx="1614.3" cy="1122.9" r="7.0"/>
<circle cx="1615.8" cy="1125.4" r="7.0"/>
<circle cx="1617.4" cy="1123.3" r="7.0"/>
<circle cx="1618.9" cy="1125.2" r="7.0"/>
<circle cx="1620.5" cy="1124.6" r="7.0"/>
<circle cx="1622.1" cy="1124.7" r="7.0"/>
<circle cx="1623.6" cy="1125.6" r="7.0"/>
<circle cx="1625.2" cy="1124.6" r="7.0"/>
<circle cx="1626.7" cy="1123.8" r="7.0"/>
<circle cx="1628.2" cy="1124.9" r="7.0"/>
<circle cx="1629.8" cy="1125.9" r="7.0"/>
<circle cx="1631.3" cy="1125.1" r="7.0"/>
<circle cx="1632.9" cy="1124.1" r="7.0"/>
<circle cx="1634.4" cy="1123.0" r="7.0"/>
<circle cx="1636.0" cy="1123.4" r="7.0"/>
<circle cx="1637.6" cy="1124.1" r="7.0"/>
<circle cx="1639.1" cy="1125.6" r="7.0"/>
<circle cx="1640.7" cy="1123.3" r="7.0"/>
<circle cx="1642.2" cy="1124.4" r="7.0"/>
<circle cx="1643.8" cy="1124.7" r="7.0"/>
<circle cx="1645.3" cy="1123.3" r="7.0"/>
<circle cx="1646.8" cy="1123.7" r="7.0"/>
<circle cx="1648.4" cy="1123.8" r="7.0"/>
<circle cx="1649.9" cy="1125.8" r="7.0"/>
<circle cx="1651.5" cy="1125.2" r="7.0"/>
<circle cx="1653.1" cy="1126.5" r="7.0"/>
<circle cx="1654.6" cy="1124.2" r="7.0"/>
<circle cx="1656.2" cy="1124.4" r="7.0"/>
<circle cx="1657.7" cy="1123.3" r="7.0"/>
<circle cx="1659.2" cy="1124.2" r="7.0"/>
<circle cx="1660.8" cy="1124.9" r="7.0"/>
<circle cx="1662.3" cy="1121.9" r="7.0"/>
<circle cx="1663.9" cy="1125.7" r="7.0"/>
<circle cx="1665.4" cy="1126.0" r="7.0"/>
<circle cx="1667.0" cy="1125.2" r="7.0"/>
<circle cx="1668.6" cy="1123.8" r="7.0"/>
<circle cx="1670.1" cy="1124.9" r="7.0"/>
<circle cx="1671.7" cy="1125.0" r="7.0"/>
<circle cx="1673.2" cy="1125.8" r="7.0"/>
<circle cx="1674.8" cy="1122.7" r="7.0"/>
<circle cx="1676.3" cy="1125.2" r="7.0"/>
<circle cx="1677.8" cy="1125.7" r="7.0"/>
<circle cx="1679.4" cy="1124.6" r="7.0"/>
<circle cx="1680.9" cy="1125.4" r="7.0"/>
<circle cx="1682.5" cy="1124.7" r="7.0"/>
<circle cx="1684.1" cy="1122.8" r="7.0"/>
<circle cx="1685.6" cy="1125.0" r="7.0"/>
<circle cx="1687.2" cy="1124.5" r="7.0"/>
<circle cx="1688.7" cy="1124.9" r="7.0"/>
<circle cx="1690.2" cy="1124.7" r="7.0"/>
<circle cx="1691.8" cy="1123.5" r="7.0"/>
<circle cx="1693.3" cy="1123.8" r="7.0"/>
<circle cx="1694.9" cy="1124.8" r="7.0"/>
<circle cx="1696.4" cy="1125.6" r="7.0"/>
<circle cx="1698.0" cy="1124.6" r="7.0"/>
<circle cx="1699.6" cy="1124.4" r="7.0"/>
</g>
<line x1="320" y1="61" x2="1824.5" y2="61" stroke="#000" stroke-width="5" />
<line x1="320" y1="1257.5" x2="1824.5" y2="1257.5" stroke="#000" stroke-width="5" />
<line x1="334" y1="58.5" x2="334" y2="1260" stroke="#000" stroke-width="5" />
<line x1="1822" y1="58.5" x2="1822" y2="1260" stroke="#000" stroke-width="5" />
<line x1="309" y1="1136.4" x2="334" y2="1136.4" stroke="#000" stroke-width="4.5" />
<line x1="309" y1="897.2" x2="334" y2="897.2" stroke="#000" stroke-width="4.5" />
<line x1="309" y1="658" x2="334" y2="658" stroke="#000" stroke-width="4.5" />
<line x1="309" y1="418.8" x2="334" y2="418.8" stroke="#000" stroke-width="4.5" />
<line x1="309" y1="179.6" x2="334" y2="179.6" stroke="#000" stroke-width="4.5" />
<line x1="320" y1="1256" x2="334" y2="1256" stroke="#000" stroke-width="3.5" />
<line x1="320" y1="1016.8" x2="334" y2="1016.8" stroke="#000" stroke-width="3.5" />
<line x1="320" y1="777.6" x2="334" y2="777.6" stroke="#000" stroke-width="3.5" />
<line x1="320" y1="538.4" x2="334" y2="538.4" stroke="#000" stroke-width="3.5" />
<line x1="320" y1="299.2" x2="334" y2="299.2" stroke="#000" stroke-width="3.5" />
<line x1="320" y1="60" x2="334" y2="60" stroke="#000" stroke-width="3.5" />
<line x1="458" y1="1257.5" x2="458" y2="1281.7" stroke="#000" stroke-width="3.5" />
<line x1="768" y1="1257.5" x2="768" y2="1281.7" stroke="#000" stroke-width="3.5" />
<line x1="1078" y1="1257.5" x2="1078" y2="1281.7" stroke="#000" stroke-width="3.5" />
<line x1="1388" y1="1257.5" x2="1388" y2="1281.7" stroke="#000" stroke-width="3.5" />
<line x1="1698" y1="1257.5" x2="1698" y2="1281.7" stroke="#000" stroke-width="3.5" />
<line x1="613" y1="1257.5" x2="613" y2="1271.2" stroke="#000" stroke-width="3.5" />
<line x1="923" y1="1257.5" x2="923" y2="1271.2" stroke="#000" stroke-width="3.5" />
<line x1="1233" y1="1257.5" x2="1233" y2="1271.2" stroke="#000" stroke-width="3.5" />
<line x1="1543" y1="1257.5" x2="1543" y2="1271.2" stroke="#000" stroke-width="3.5" />
<text x="293" y="199.9" font-size="69" font-weight="bold" font-style="normal" text-anchor="end" >1.0</text>
<text x="293" y="439.1" font-size="69" font-weight="bold" font-style="normal" text-anchor="end" >0.5</text>
<text x="293" y="678.3" font-size="69" font-weight="bold" font-style="normal" text-anchor="end" >0.0</text>
<text x="293" y="917.5" font-size="69" font-weight="bold" font-style="normal" text-anchor="end" >-0.5</text>
<text x="293" y="1156.7" font-size="69" font-weight="bold" font-style="normal" text-anchor="end" >-1.0</text>
<text x="458" y="1348.7" font-size="69" font-weight="bold" font-style="normal" text-anchor="middle" >-10</text>
<text x="768" y="1348.7" font-size="69" font-weight="bold" font-style="normal" text-anchor="middle" >-5</text>
<text x="1078" y="1348.7" font-size="69" font-weight="bold" font-style="normal" text-anchor="middle" >0</text>
<text x="1388" y="1348.7" font-size="69" font-weight="bold" font-style="normal" text-anchor="middle" >5</text>
<text x="1698" y="1348.7" font-size="69" font-weight="bold" font-style="normal" text-anchor="middle" >10</text>
<text transform="translate(688.1,1475) scale(1,1.025)" font-size="79.6" font-weight="bold">Magnetic Field (kOe)</text>
<text transform="translate(128.2,1198.7) rotate(-90) scale(1,1.03)" font-size="79.3" font-weight="bold">Normalized Magnetization</text>
<text x="378" y="202" font-size="103" font-weight="bold" font-style="normal" text-anchor="start" >(a)</text>
<polyline points="475.0,1738.0 489.4,1853.6 502.3,1969.8 514.1,2079.3 525.9,2180.2 537.0,2267.4 549.5,2354.6 561.9,2404.2 568.1,2429.8 574.3,2455.5 583.8,2470.9 597.9,2474.3 611.5,2471.7 622.7,2450.3 636.3,2433.2 645.0,2405.9 661.1,2378.5 676.0,2335.8 689.7,2293.0 698.4,2253.7 710.8,2207.5 723.2,2169.9 733.1,2113.5 745.5,2065.6 759.2,2031.4 771.6,1993.8 786.5,1959.6 800.1,1915.1 810.1,1892.9 823.7,1851.8 836.1,1833.0 849.8,1822.8 865.9,1788.6 880.8,1762.9 893.2,1754.4 905.6,1748.4 918.0,1747.7 930.4,1740.3 942.9,1753.7 955.3,1741.5 967.7,1756.1 980.1,1747.1 992.5,1747.3 1004.9,1739.2 1017.3,1746.1 1029.7,1749.8 1042.1,1738.1 1054.5,1736.8 1067.0,1750.8 1079.4,1742.7 1091.8,1749.7 1104.2,1746.3 1116.6,1745.9 1129.0,1755.3 1141.4,1747.6 1153.8,1754.5 1166.2,1754.3 1178.6,1751.3 1191.1,1760.7 1203.5,1757.9 1215.9,1747.8 1228.3,1745.5 1240.7,1744.4 1253.1,1752.5 1265.5,1745.7 1277.9,1740.7 1290.3,1743.2 1302.7,1758.7 1315.2,1761.0 1327.6,1748.3 1340.0,1743.5 1352.4,1751.2 1364.8,1745.5 1377.2,1750.0 1389.6,1750.3 1402.0,1750.0 1414.4,1750.6 1426.8,1754.6 1439.3,1741.2 1451.7,1746.9 1464.1,1756.0 1476.5,1754.5 1488.9,1759.2 1501.3,1750.3 1513.7,1761.8 1526.1,1755.5 1538.5,1749.2 1550.9,1750.5 1563.4,1750.6 1575.8,1761.2 1588.2,1749.8 1600.6,1755.3 1613.0,1746.7 1625.4,1756.5 1637.8,1745.0 1650.2,1752.7 1662.6,1750.9 1675.0,1757.9 1687.5,1758.1 1699.9,1758.2 1712.3,1756.0" fill="none" stroke="#ff0000" stroke-width="3.5" stroke-linejoin="round" stroke-dasharray="14 5"/>
<g fill="#ff0000" stroke="none" stroke-width="0">
<circle cx="475.0" cy="1738.0" r="12"/>
<circle cx="489.4" cy="1853.6" r="12"/>
<circle cx="502.3" cy="1969.8" r="12"/>
<circle cx="514.1" cy="2079.3" r="12"/>
<circle cx="525.9" cy="2180.2" r="12"/>
<circle cx="537.0" cy="2267.4" r="12"/>
<circle cx="549.5" cy="2354.6" r="12"/>
<circle cx="561.9" cy="2404.2" r="12"/>
<circle cx="568.1" cy="2429.8" r="12"/>
<circle cx="574.3" cy="2455.5" r="12"/>
<circle cx="583.8" cy="2470.9" r="12"/>
<circle cx="597.9" cy="2474.3" r="12"/>
<circle cx="611.5" cy="2471.7" r="12"/>
<circle cx="622.7" cy="2450.3" r="12"/>
<circle cx="636.3" cy="2433.2" r="12"/>
<circle cx="645.0" cy="2405.9" r="12"/>
<circle cx="661.1" cy="2378.5" r="12"/>
<circle cx="676.0" cy="2335.8" r="12"/>
<circle cx="689.7" cy="2293.0" r="12"/>
<circle cx="698.4" cy="2253.7" r="12"/>
<circle cx="710.8" cy="2207.5" r="12"/>
<circle cx="723.2" cy="2169.9" r="12"/>
<circle cx="733.1" cy="2113.5" r="12"/>
<circle cx="745.5" cy="2065.6" r="12"/>
<circle cx="759.2" cy="2031.4" r="12"/>
<circle cx="771.6" cy="1993.8" r="12"/>
<circle cx="786.5" cy="1959.6" r="12"/>
<circle cx="800.1" cy="1915.1" r="12"/>
<circle cx="810.1" cy="1892.9" r="12"/>
<circle cx="823.7" cy="1851.8" r="12"/>
<circle cx="836.1" cy="1833.0" r="12"/>
<circle cx="849.8" cy="1822.8" r="12"/>
<circle cx="865.9" cy="1788.6" r="12"/>
<circle cx="880.8" cy="1762.9" r="12"/>
<circle cx="893.2" cy="1754.4" r="12"/>
<circle cx="905.6" cy="1748.4" r="12"/>
<circle cx="918.0" cy="1747.7" r="12"/>
<circle cx="930.4" cy="1740.3" r="12"/>
<circle cx="942.9" cy="1753.7" r="12"/>
<circle cx="955.3" cy="1741.5" r="12"/>
<circle cx="967.7" cy="1756.1" r="12"/>
<circle cx="980.1" cy="1747.1" r="12"/>
<circle cx="992.5" cy="1747.3" r="12"/>
<circle cx="1004.9" cy="1739.2" r="12"/>
<circle cx="1017.3" cy="1746.1" r="12"/>
<circle cx="1029.7" cy="1749.8" r="12"/>
<circle cx="1042.1" cy="1738.1" r="12"/>
<circle cx="1054.5" cy="1736.8" r="12"/>
<circle cx="1067.0" cy="1750.8" r="12"/>
<circle cx="1079.4" cy="1742.7" r="12"/>
<circle cx="1091.8" cy="1749.7" r="12"/>
<circle cx="1104.2" cy="1746.3" r="12"/>
<circle cx="1116.6" cy="1745.9" r="12"/>
<circle cx="1129.0" cy="1755.3" r="12"/>
<circle cx="1141.4" cy="1747.6" r="12"/>
<circle cx="1153.8" cy="1754.5" r="12"/>
<circle cx="1166.2" cy="1754.3" r="12"/>
<circle cx="1178.6" cy="1751.3" r="12"/>
<circle cx="1191.1" cy="1760.7" r="12"/>
<circle cx="1203.5" cy="1757.9" r="12"/>
<circle cx="1215.9" cy="1747.8" r="12"/>
<circle cx="1228.3" cy="1745.5" r="12"/>
<circle cx="1240.7" cy="1744.4" r="12"/>
<circle cx="1253.1" cy="1752.5" r="12"/>
<circle cx="1265.5" cy="1745.7" r="12"/>
<circle cx="1277.9" cy="1740.7" r="12"/>
<circle cx="1290.3" cy="1743.2" r="12"/>
<circle cx="1302.7" cy="1758.7" r="12"/>
<circle cx="1315.2" cy="1761.0" r="12"/>
<circle cx="1327.6" cy="1748.3" r="12"/>
<circle cx="1340.0" cy="1743.5" r="12"/>
<circle cx="1352.4" cy="1751.2" r="12"/>
<circle cx="1364.8" cy="1745.5" r="12"/>
<circle cx="1377.2" cy="1750.0" r="12"/>
<circle cx="1389.6" cy="1750.3" r="12"/>
<circle cx="1402.0" cy="1750.0" r="12"/>
<circle cx="1414.4" cy="1750.6" r="12"/>
<circle cx="1426.8" cy="1754.6" r="12"/>
<circle cx="1439.3" cy="1741.2" r="12"/>
<circle cx="1451.7" cy="1746.9" r="12"/>
<circle cx="1464.1" cy="1756.0" r="12"/>
<circle cx="1476.5" cy="1754.5" r="12"/>
<circle cx="1488.9" cy="1759.2" r="12"/>
<circle cx="1501.3" cy="1750.3" r="12"/>
<circle cx="1513.7" cy="1761.8" r="12"/>
<circle cx="1526.1" cy="1755.5" r="12"/>
<circle cx="1538.5" cy="1749.2" r="12"/>
<circle cx="1550.9" cy="1750.5" r="12"/>
<circle cx="1563.4" cy="1750.6" r="12"/>
<circle cx="1575.8" cy="1761.2" r="12"/>
<circle cx="1588.2" cy="1749.8" r="12"/>
<circle cx="1600.6" cy="1755.3" r="12"/>
<circle cx="1613.0" cy="1746.7" r="12"/>
<circle cx="1625.4" cy="1756.5" r="12"/>
<circle cx="1637.8" cy="1745.0" r="12"/>
<circle cx="1650.2" cy="1752.7" r="12"/>
<circle cx="1662.6" cy="1750.9" r="12"/>
<circle cx="1675.0" cy="1757.9" r="12"/>
<circle cx="1687.5" cy="1758.1" r="12"/>
<circle cx="1699.9" cy="1758.2" r="12"/>
<circle cx="1712.3" cy="1756.0" r="12"/>
</g>
<polyline points="475.0,1792.0 487.4,1920.2 499.8,2041.7 509.7,2176.8 520.9,2299.9 535.8,2412.7 549.5,2529.0 561.9,2611.1 574.3,2657.3 584.2,2681.2 599.1,2686.3 612.8,2664.1 623.9,2602.5 636.3,2535.8 648.7,2464.0 661.1,2393.9 672.3,2301.6 686.0,2226.3 697.1,2161.4 709.5,2106.6 723.2,2034.8 734.4,1986.9 748.0,1945.9 760.4,1908.3 774.1,1886.0 784.0,1867.2 797.7,1836.5 810.1,1826.2 823.7,1814.2 836.1,1807.4 849.8,1798.8 859.7,1804.0 870.9,1802.3 880.8,1793.7 896.9,1783.5 909.3,1798.8 920.5,1783.5 931.7,1792.0 944.1,1793.7 959.0,1792.0 971.4,1797.1 983.8,1800.5 996.2,1804.0 1012.4,1802.3 1029.7,1807.4 1043.4,1817.7 1058.3,1819.4 1074.4,1826.2 1088.1,1831.3 1095.5,1841.6 1109.2,1831.3 1121.6,1807.4 1131.5,1838.2 1145.1,1836.5 1158.8,1851.8 1168.7,1831.3 1184.9,1851.8 1194.8,1851.8 1204.7,1865.5 1218.4,1858.7 1232.0,1858.7 1244.4,1865.5 1258.1,1880.9 1270.5,1867.2 1284.1,1887.8 1296.5,1887.1 1309.0,1901.5 1321.4,1884.4 1333.8,1895.8 1346.2,1898.7 1358.6,1903.3 1371.0,1889.2 1383.4,1905.3 1395.8,1892.8 1408.2,1903.0 1420.6,1899.7 1433.1,1903.1 1445.5,1898.3 1457.9,1898.5 1470.3,1913.8 1482.7,1898.8 1495.1,1902.4 1507.5,1901.3 1519.9,1899.0 1532.3,1923.2 1544.7,1898.4 1557.2,1925.7 1569.6,1919.0 1582.0,1912.0 1594.4,1907.0 1606.8,1910.7 1619.2,1913.2 1631.6,1912.1 1644.0,1925.0 1656.4,1916.6 1668.8,1916.8" fill="none" stroke="#000" stroke-width="4" stroke-linejoin="round" />
<g fill="#fff" stroke="#000" stroke-width="4">
<circle cx="475.0" cy="1792.0" r="10"/>
<circle cx="487.4" cy="1920.2" r="10"/>
<circle cx="499.8" cy="2041.7" r="10"/>
<circle cx="509.7" cy="2176.8" r="10"/>
<circle cx="520.9" cy="2299.9" r="10"/>
<circle cx="535.8" cy="2412.7" r="10"/>
<circle cx="549.5" cy="2529.0" r="10"/>
<circle cx="561.9" cy="2611.1" r="10"/>
<circle cx="574.3" cy="2657.3" r="10"/>
<circle cx="584.2" cy="2681.2" r="10"/>
<circle cx="599.1" cy="2686.3" r="10"/>
<circle cx="612.8" cy="2664.1" r="10"/>
<circle cx="623.9" cy="2602.5" r="10"/>
<circle cx="636.3" cy="2535.8" r="10"/>
<circle cx="648.7" cy="2464.0" r="10"/>
<circle cx="661.1" cy="2393.9" r="10"/>
<circle cx="672.3" cy="2301.6" r="10"/>
<circle cx="686.0" cy="2226.3" r="10"/>
<circle cx="697.1" cy="2161.4" r="10"/>
<circle cx="709.5" cy="2106.6" r="10"/>
<circle cx="723.2" cy="2034.8" r="10"/>
<circle cx="734.4" cy="1986.9" r="10"/>
<circle cx="748.0" cy="1945.9" r="10"/>
<circle cx="760.4" cy="1908.3" r="10"/>
<circle cx="774.1" cy="1886.0" r="10"/>
<circle cx="784.0" cy="1867.2" r="10"/>
<circle cx="797.7" cy="1836.5" r="10"/>
<circle cx="810.1" cy="1826.2" r="10"/>
<circle cx="823.7" cy="1814.2" r="10"/>
<circle cx="836.1" cy="1807.4" r="10"/>
<circle cx="849.8" cy="1798.8" r="10"/>
<circle cx="859.7" cy="1804.0" r="10"/>
<circle cx="870.9" cy="1802.3" r="10"/>
<circle cx="880.8" cy="1793.7" r="10"/>
<circle cx="896.9" cy="1783.5" r="10"/>
<circle cx="909.3" cy="1798.8" r="10"/>
<circle cx="920.5" cy="1783.5" r="10"/>
<circle cx="931.7" cy="1792.0" r="10"/>
<circle cx="944.1" cy="1793.7" r="10"/>
<circle cx="959.0" cy="1792.0" r="10"/>
<circle cx="971.4" cy="1797.1" r="10"/>
<circle cx="983.8" cy="1800.5" r="10"/>
<circle cx="996.2" cy="1804.0" r="10"/>
<circle cx="1012.4" cy="1802.3" r="10"/>
<circle cx="1029.7" cy="1807.4" r="10"/>
<circle cx="1043.4" cy="1817.7" r="10"/>
<circle cx="1058.3" cy="1819.4" r="10"/>
<circle cx="1074.4" cy="1826.2" r="10"/>
<circle cx="1088.1" cy="1831.3" r="10"/>
<circle cx="1095.5" cy="1841.6" r="10"/>
<circle cx="1109.2" cy="1831.3" r="10"/>
<circle cx="1121.6" cy="1807.4" r="10"/>
<circle cx="1131.5" cy="1838.2" r="10"/>
<circle cx="1145.1" cy="1836.5" r="10"/>
<circle cx="1158.8" cy="1851.8" r="10"/>
<circle cx="1168.7" cy="1831.3" r="10"/>
<circle cx="1184.9" cy="1851.8" r="10"/>
<circle cx="1194.8" cy="1851.8" r="10"/>
<circle cx="1204.7" cy="1865.5" r="10"/>
<circle cx="1218.4" cy="1858.7" r="10"/>
<circle cx="1232.0" cy="1858.7" r="10"/>
<circle cx="1244.4" cy="1865.5" r="10"/>
<circle cx="1258.1" cy="1880.9" r="10"/>
<circle cx="1270.5" cy="1867.2" r="10"/>
<circle cx="1284.1" cy="1887.8" r="10"/>
<circle cx="1296.5" cy="1887.1" r="10"/>
<circle cx="1309.0" cy="1901.5" r="10"/>
<circle cx="1321.4" cy="1884.4" r="10"/>
<circle cx="1333.8" cy="1895.8" r="10"/>
<circle cx="1346.2" cy="1898.7" r="10"/>
<circle cx="1358.6" cy="1903.3" r="10"/>
<circle cx="1371.0" cy="1889.2" r="10"/>
<circle cx="1383.4" cy="1905.3" r="10"/>
<circle cx="1395.8" cy="1892.8" r="10"/>
<circle cx="1408.2" cy="1903.0" r="10"/>
<circle cx="1420.6" cy="1899.7" r="10"/>
<circle cx="1433.1" cy="1903.1" r="10"/>
<circle cx="1445.5" cy="1898.3" r="10"/>
<circle cx="1457.9" cy="1898.5" r="10"/>
<circle cx="1470.3" cy="1913.8" r="10"/>
<circle cx="1482.7" cy="1898.8" r="10"/>
<circle cx="1495.1" cy="1902.4" r="10"/>
<circle cx="1507.5" cy="1901.3" r="10"/>
<circle cx="1519.9" cy="1899.0" r="10"/>
<circle cx="1532.3" cy="1923.2" r="10"/>
<circle cx="1544.7" cy="1898.4" r="10"/>
<circle cx="1557.2" cy="1925.7" r="10"/>
<circle cx="1569.6" cy="1919.0" r="10"/>
<circle cx="1582.0" cy="1912.0" r="10"/>
<circle cx="1594.4" cy="1907.0" r="10"/>
<circle cx="1606.8" cy="1910.7" r="10"/>
<circle cx="1619.2" cy="1913.2" r="10"/>
<circle cx="1631.6" cy="1912.1" r="10"/>
<circle cx="1644.0" cy="1925.0" r="10"/>
<circle cx="1656.4" cy="1916.6" r="10"/>
<circle cx="1668.8" cy="1916.8" r="10"/>
</g>
<polyline points="475.0,1795.4 487.4,1930.5 499.8,2058.8 511.0,2171.6 523.4,2264.0 537.0,2332.4 549.5,2378.5 563.1,2402.5 576.8,2414.4 594.1,2423.0 604.1,2419.6 612.8,2412.7 625.2,2402.5 636.3,2380.2 648.7,2356.3 661.1,2332.4 674.8,2293.0 686.0,2279.3 698.4,2240.0 710.8,2195.6 723.2,2157.9 735.6,2123.7 749.3,2103.2 760.4,2065.6 772.8,2040.0 785.2,2004.0 797.7,1975.0 813.8,1940.8 831.2,1920.2 844.8,1903.2 857.2,1887.8 868.4,1872.4 880.8,1862.1 892.0,1843.3 906.9,1841.6 920.5,1843.3 936.7,1819.4 949.1,1817.7 962.7,1819.4 977.6,1804.0 991.3,1802.3 1006.1,1786.9 1022.3,1788.6 1035.9,1768.1 1048.3,1778.3 1064.5,1776.6 1079.4,1778.3 1095.5,1776.6 1109.2,1783.5 1121.6,1773.2 1137.7,1783.5 1147.6,1773.2 1163.8,1786.9 1179.9,1783.5 1194.8,1788.6 1210.9,1798.8 1232.0,1786.9 1246.9,1792.0 1263.0,1798.8 1279.2,1809.1 1292.8,1803.8 1305.2,1810.1 1317.6,1817.3 1330.0,1804.8 1342.5,1807.4 1354.9,1821.5 1367.3,1817.0 1379.7,1823.8 1392.1,1826.1 1404.5,1803.1 1416.9,1820.3 1429.3,1813.4 1441.7,1816.9 1454.1,1819.7 1466.6,1829.0 1479.0,1829.5 1491.4,1819.0 1503.8,1814.4 1516.2,1837.8 1528.6,1831.5 1541.0,1826.4 1553.4,1817.5 1565.8,1822.1 1578.2,1820.7 1590.7,1826.0 1603.1,1836.1 1615.5,1830.9 1627.9,1821.3 1640.3,1830.9 1652.7,1843.0 1665.1,1824.1 1677.5,1836.5" fill="none" stroke="#0000ff" stroke-width="4" stroke-linejoin="round" />
<g fill="#0000ff">
<path d="M475.0,1783.9L488.5,1806.9L461.5,1806.9Z"/>
<path d="M487.4,1919.0L500.9,1942.0L473.9,1942.0Z"/>
<path d="M499.8,2047.3L513.3,2070.3L486.3,2070.3Z"/>
<path d="M511.0,2160.1L524.5,2183.1L497.5,2183.1Z"/>
<path d="M523.4,2252.5L536.9,2275.5L509.9,2275.5Z"/>
<path d="M537.0,2320.9L550.5,2343.9L523.5,2343.9Z"/>
<path d="M549.5,2367.0L563.0,2390.0L536.0,2390.0Z"/>
<path d="M563.1,2391.0L576.6,2414.0L549.6,2414.0Z"/>
<path d="M576.8,2402.9L590.3,2425.9L563.3,2425.9Z"/>
<path d="M594.1,2411.5L607.6,2434.5L580.6,2434.5Z"/>
<path d="M604.1,2408.1L617.6,2431.1L590.6,2431.1Z"/>
<path d="M612.8,2401.2L626.3,2424.2L599.3,2424.2Z"/>
<path d="M625.2,2391.0L638.7,2414.0L611.7,2414.0Z"/>
<path d="M636.3,2368.7L649.8,2391.7L622.8,2391.7Z"/>
<path d="M648.7,2344.8L662.2,2367.8L635.2,2367.8Z"/>
<path d="M661.1,2320.9L674.6,2343.9L647.6,2343.9Z"/>
<path d="M674.8,2281.5L688.3,2304.5L661.3,2304.5Z"/>
<path d="M686.0,2267.8L699.5,2290.8L672.5,2290.8Z"/>
<path d="M698.4,2228.5L711.9,2251.5L684.9,2251.5Z"/>
<path d="M710.8,2184.1L724.3,2207.1L697.3,2207.1Z"/>
<path d="M723.2,2146.4L736.7,2169.4L709.7,2169.4Z"/>
<path d="M735.6,2112.2L749.1,2135.2L722.1,2135.2Z"/>
<path d="M749.3,2091.7L762.8,2114.7L735.8,2114.7Z"/>
<path d="M760.4,2054.1L773.9,2077.1L746.9,2077.1Z"/>
<path d="M772.8,2028.5L786.3,2051.4L759.3,2051.4Z"/>
<path d="M785.2,1992.5L798.8,2015.5L771.8,2015.5Z"/>
<path d="M797.7,1963.5L811.2,1986.5L784.2,1986.5Z"/>
<path d="M813.8,1929.3L827.3,1952.3L800.3,1952.3Z"/>
<path d="M831.2,1908.8L844.7,1931.8L817.7,1931.8Z"/>
<path d="M844.8,1891.7L858.3,1914.7L831.3,1914.7Z"/>
<path d="M857.2,1876.3L870.7,1899.3L843.7,1899.3Z"/>
<path d="M868.4,1860.9L881.9,1883.9L854.9,1883.9Z"/>
<path d="M880.8,1850.6L894.3,1873.6L867.3,1873.6Z"/>
<path d="M892.0,1831.8L905.5,1854.8L878.5,1854.8Z"/>
<path d="M906.9,1830.1L920.4,1853.1L893.4,1853.1Z"/>
<path d="M920.5,1831.8L934.0,1854.8L907.0,1854.8Z"/>
<path d="M936.7,1807.9L950.2,1830.9L923.2,1830.9Z"/>
<path d="M949.1,1806.2L962.6,1829.2L935.6,1829.2Z"/>
<path d="M962.7,1807.9L976.2,1830.9L949.2,1830.9Z"/>
<path d="M977.6,1792.5L991.1,1815.5L964.1,1815.5Z"/>
<path d="M991.3,1790.8L1004.8,1813.8L977.8,1813.8Z"/>
<path d="M1006.1,1775.4L1019.6,1798.4L992.6,1798.4Z"/>
<path d="M1022.3,1777.1L1035.8,1800.1L1008.8,1800.1Z"/>
<path d="M1035.9,1756.6L1049.4,1779.6L1022.4,1779.6Z"/>
<path d="M1048.3,1766.8L1061.8,1789.8L1034.8,1789.8Z"/>
<path d="M1064.5,1765.1L1078.0,1788.1L1051.0,1788.1Z"/>
<path d="M1079.4,1766.8L1092.9,1789.8L1065.9,1789.8Z"/>
<path d="M1095.5,1765.1L1109.0,1788.1L1082.0,1788.1Z"/>
<path d="M1109.2,1772.0L1122.7,1795.0L1095.7,1795.0Z"/>
<path d="M1121.6,1761.7L1135.1,1784.7L1108.1,1784.7Z"/>
<path d="M1137.7,1772.0L1151.2,1795.0L1124.2,1795.0Z"/>
<path d="M1147.6,1761.7L1161.1,1784.7L1134.1,1784.7Z"/>
<path d="M1163.8,1775.4L1177.3,1798.4L1150.3,1798.4Z"/>
<path d="M1179.9,1772.0L1193.4,1795.0L1166.4,1795.0Z"/>
<path d="M1194.8,1777.1L1208.3,1800.1L1181.3,1800.1Z"/>
<path d="M1210.9,1787.3L1224.4,1810.3L1197.4,1810.3Z"/>
<path d="M1232.0,1775.4L1245.5,1798.4L1218.5,1798.4Z"/>
<path d="M1246.9,1780.5L1260.4,1803.5L1233.4,1803.5Z"/>
<path d="M1263.0,1787.3L1276.5,1810.3L1249.5,1810.3Z"/>
<path d="M1279.2,1797.6L1292.7,1820.6L1265.7,1820.6Z"/>
<path d="M1292.8,1792.3L1306.3,1815.3L1279.3,1815.3Z"/>
<path d="M1305.2,1798.6L1318.7,1821.6L1291.7,1821.6Z"/>
<path d="M1317.6,1805.8L1331.1,1828.8L1304.1,1828.8Z"/>
<path d="M1330.0,1793.3L1343.5,1816.3L1316.5,1816.3Z"/>
<path d="M1342.5,1795.9L1356.0,1818.9L1329.0,1818.9Z"/>
<path d="M1354.9,1810.0L1368.4,1833.0L1341.4,1833.0Z"/>
<path d="M1367.3,1805.5L1380.8,1828.5L1353.8,1828.5Z"/>
<path d="M1379.7,1812.3L1393.2,1835.3L1366.2,1835.3Z"/>
<path d="M1392.1,1814.6L1405.6,1837.6L1378.6,1837.6Z"/>
<path d="M1404.5,1791.6L1418.0,1814.6L1391.0,1814.6Z"/>
<path d="M1416.9,1808.8L1430.4,1831.8L1403.4,1831.8Z"/>
<path d="M1429.3,1801.9L1442.8,1824.9L1415.8,1824.9Z"/>
<path d="M1441.7,1805.4L1455.2,1828.4L1428.2,1828.4Z"/>
<path d="M1454.1,1808.2L1467.6,1831.2L1440.6,1831.2Z"/>
<path d="M1466.6,1817.5L1480.1,1840.5L1453.1,1840.5Z"/>
<path d="M1479.0,1818.0L1492.5,1841.0L1465.5,1841.0Z"/>
<path d="M1491.4,1807.5L1504.9,1830.5L1477.9,1830.5Z"/>
<path d="M1503.8,1802.9L1517.3,1825.9L1490.3,1825.9Z"/>
<path d="M1516.2,1826.3L1529.7,1849.3L1502.7,1849.3Z"/>
<path d="M1528.6,1820.0L1542.1,1843.0L1515.1,1843.0Z"/>
<path d="M1541.0,1814.9L1554.5,1837.9L1527.5,1837.9Z"/>
<path d="M1553.4,1806.0L1566.9,1829.0L1539.9,1829.0Z"/>
<path d="M1565.8,1810.6L1579.3,1833.6L1552.3,1833.6Z"/>
<path d="M1578.2,1809.2L1591.7,1832.2L1564.7,1832.2Z"/>
<path d="M1590.7,1814.5L1604.2,1837.5L1577.2,1837.5Z"/>
<path d="M1603.1,1824.6L1616.6,1847.6L1589.6,1847.6Z"/>
<path d="M1615.5,1819.4L1629.0,1842.4L1602.0,1842.4Z"/>
<path d="M1627.9,1809.8L1641.4,1832.8L1614.4,1832.8Z"/>
<path d="M1640.3,1819.4L1653.8,1842.4L1626.8,1842.4Z"/>
<path d="M1652.7,1831.5L1666.2,1854.5L1639.2,1854.5Z"/>
<path d="M1665.1,1812.6L1678.6,1835.6L1651.6,1835.6Z"/>
<path d="M1677.5,1825.0L1691.0,1848.0L1664.0,1848.0Z"/>
</g>
<line x1="325.5" y1="1621.5" x2="1843.5" y2="1621.5" stroke="#000" stroke-width="5" />
<line x1="326" y1="2818.5" x2="1843.5" y2="2818.5" stroke="#000" stroke-width="5" />
<line x1="352" y1="1619" x2="352" y2="2834" stroke="#000" stroke-width="4.5" />
<line x1="1841" y1="1619" x2="1841" y2="2834" stroke="#000" stroke-width="4.5" />
<line x1="326" y1="1621" x2="352" y2="1621" stroke="#000" stroke-width="4.5" />
<line x1="326" y1="1792" x2="352" y2="1792" stroke="#000" stroke-width="4.5" />
<line x1="326" y1="1963" x2="352" y2="1963" stroke="#000" stroke-width="4.5" />
<line x1="326" y1="2134" x2="352" y2="2134" stroke="#000" stroke-width="4.5" />
<line x1="326" y1="2305" x2="352" y2="2305" stroke="#000" stroke-width="4.5" />
<line x1="326" y1="2476" x2="352" y2="2476" stroke="#000" stroke-width="4.5" />
<line x1="326" y1="2647" x2="352" y2="2647" stroke="#000" stroke-width="4.5" />
<line x1="326" y1="2818" x2="352" y2="2818" stroke="#000" stroke-width="4.5" />
<line x1="337" y1="1706.5" x2="352" y2="1706.5" stroke="#000" stroke-width="4" />
<line x1="337" y1="1877.5" x2="352" y2="1877.5" stroke="#000" stroke-width="4" />
<line x1="337" y1="2048.5" x2="352" y2="2048.5" stroke="#000" stroke-width="4" />
<line x1="337" y1="2219.5" x2="352" y2="2219.5" stroke="#000" stroke-width="4" />
<line x1="337" y1="2390.5" x2="352" y2="2390.5" stroke="#000" stroke-width="4" />
<line x1="337" y1="2561.5" x2="352" y2="2561.5" stroke="#000" stroke-width="4" />
<line x1="337" y1="2732.5" x2="352" y2="2732.5" stroke="#000" stroke-width="4" />
<line x1="475" y1="2818.5" x2="475" y2="2844.5" stroke="#000" stroke-width="4" />
<line x1="723.2" y1="2818.5" x2="723.2" y2="2844.5" stroke="#000" stroke-width="4" />
<line x1="971.4" y1="2818.5" x2="971.4" y2="2844.5" stroke="#000" stroke-width="4" />
<line x1="1219.6" y1="2818.5" x2="1219.6" y2="2844.5" stroke="#000" stroke-width="4" />
<line x1="1467.8" y1="2818.5" x2="1467.8" y2="2844.5" stroke="#000" stroke-width="4" />
<line x1="1716" y1="2818.5" x2="1716" y2="2844.5" stroke="#000" stroke-width="4" />
<line x1="599.1" y1="2818.5" x2="599.1" y2="2834" stroke="#000" stroke-width="4" />
<line x1="847.3" y1="2818.5" x2="847.3" y2="2834" stroke="#000" stroke-width="4" />
<line x1="1095.5" y1="2818.5" x2="1095.5" y2="2834" stroke="#000" stroke-width="4" />
<line x1="1343.7" y1="2818.5" x2="1343.7" y2="2834" stroke="#000" stroke-width="4" />
<line x1="1591.9" y1="2818.5" x2="1591.9" y2="2834" stroke="#000" stroke-width="4" />
<text x="311.8" y="1639" font-size="64.5" font-weight="bold" font-style="normal" text-anchor="end" >0.1</text>
<text x="311.8" y="1810" font-size="64.5" font-weight="bold" font-style="normal" text-anchor="end" >0.0</text>
<text x="311.8" y="1981" font-size="64.5" font-weight="bold" font-style="normal" text-anchor="end" >-0.1</text>
<text x="311.8" y="2152" font-size="64.5" font-weight="bold" font-style="normal" text-anchor="end" >-0.2</text>
<text x="311.8" y="2323" font-size="64.5" font-weight="bold" font-style="normal" text-anchor="end" >-0.3</text>
<text x="311.8" y="2494" font-size="64.5" font-weight="bold" font-style="normal" text-anchor="end" >-0.4</text>
<text x="311.8" y="2665" font-size="64.5" font-weight="bold" font-style="normal" text-anchor="end" >-0.5</text>
<text x="311.8" y="2836" font-size="64.5" font-weight="bold" font-style="normal" text-anchor="end" >-0.6</text>
<rect x="190" y="1540" width="140" height="64" fill="#fff"/>
<text x="475" y="2912" font-size="72" font-weight="bold" font-style="normal" text-anchor="middle" >0</text>
<text x="723.2" y="2912" font-size="72" font-weight="bold" font-style="normal" text-anchor="middle" >2</text>
<text x="971.4" y="2912" font-size="72" font-weight="bold" font-style="normal" text-anchor="middle" >4</text>
<text x="1219.6" y="2912" font-size="72" font-weight="bold" font-style="normal" text-anchor="middle" >6</text>
<text x="1467.8" y="2912" font-size="72" font-weight="bold" font-style="normal" text-anchor="middle" >8</text>
<text x="1716" y="2912" font-size="72" font-weight="bold" font-style="normal" text-anchor="middle" >10</text>
<text transform="translate(617,3006.7) scale(1,1.025)" font-size="79.6" font-weight="bold">Magnetic Field (kOe)</text>
<text transform="translate(151.3,2366.8) rotate(-90)" font-size="100"><tspan font-weight="normal">&#916;</tspan><tspan font-weight="bold" font-size="103" dx="-3">m</tspan></text>
<text x="1646.1" y="2343.4" font-size="102" font-weight="bold" font-style="normal" text-anchor="start" >(b)</text>
<line x1="1452.5" y1="2592.5" x2="1598" y2="2592.5" stroke="#ff0000" stroke-width="5" />
<g fill="#ff0000" stroke="none" stroke-width="0">
<circle cx="1525.4" cy="2592.5" r="12.5"/>
</g>
<line x1="1452.5" y1="2668.8" x2="1598" y2="2668.8" stroke="#000" stroke-width="5" />
<g fill="#fff" stroke="#000" stroke-width="4">
<circle cx="1525.4" cy="2668.8" r="10.5"/>
</g>
<line x1="1452.5" y1="2744.8" x2="1598" y2="2744.8" stroke="#0000ff" stroke-width="5" />
<g fill="#0000ff">
<path d="M1525.2,2729.4L1539.7,2754.4L1510.7,2754.4Z"/>
</g>
<text x="1610.9" y="2612.4" font-size="63" font-weight="normal" font-style="normal" text-anchor="start" >0.74</text>
<text x="1610.9" y="2689.4" font-size="63" font-weight="normal" font-style="normal" text-anchor="start" >0.39</text>
<text x="1610.9" y="2766.4" font-size="63" font-weight="normal" font-style="normal" text-anchor="start" >0.55</text>
<polyline points="479.7,3361.9 492.6,3457.5 504.1,3542.8 516.7,3606.5 528.3,3664.6 540.7,3711.2 553.1,3733.1 566.0,3777.8 578.9,3793.8 591.0,3818.9 603.1,3837.1 610.0,3849.6 616.2,3858.6 622.4,3865.4 628.6,3874.0 634.8,3877.3 641.0,3881.8 647.2,3885.3 653.4,3883.3 659.6,3893.0 665.8,3896.0 672.0,3898.8 678.2,3899.6 684.4,3899.9 690.6,3899.2 696.8,3894.4 703.0,3897.9 709.2,3899.1 715.4,3890.8 721.6,3888.2 727.8,3884.3 734.0,3880.6 740.2,3871.5 746.4,3867.5 752.6,3870.1 758.8,3866.5 765.0,3863.8 771.2,3862.3 777.4,3857.5 783.6,3852.8 789.8,3850.6 796.0,3844.1 802.2,3838.5 808.4,3831.4 814.6,3827.3 820.8,3821.9 827.0,3817.1 833.2,3813.1 839.4,3812.4 845.6,3808.3 851.8,3803.8 858.1,3796.3 864.3,3791.2 870.5,3786.9 876.7,3775.4 882.9,3773.0 889.1,3765.7 895.3,3758.9 901.5,3748.2 907.7,3742.6 913.9,3742.4 920.1,3735.2 926.3,3729.3 932.5,3727.5 938.7,3721.1 944.9,3712.7 951.1,3695.6 957.3,3691.9 963.5,3682.6 969.7,3674.9 975.9,3668.0 982.1,3656.6 988.3,3657.2 994.5,3648.8 1000.7,3637.4 1006.9,3634.8 1013.1,3623.4 1019.3,3612.6 1025.5,3604.0 1031.7,3592.1 1037.9,3579.3 1044.1,3574.4 1050.3,3566.6 1056.5,3563.8 1062.7,3561.2 1068.9,3548.4 1075.1,3548.8 1081.3,3540.6 1087.5,3534.1 1093.7,3523.3 1100.0,3523.2 1106.2,3511.4 1112.4,3510.9 1118.6,3497.8 1124.8,3490.7 1131.0,3486.9 1137.2,3481.1 1143.4,3476.0 1149.6,3469.0 1155.8,3467.7 1162.0,3455.7 1168.2,3458.3 1174.4,3452.4 1180.6,3446.7 1186.8,3440.0 1193.0,3435.5 1199.2,3429.1 1205.4,3426.9 1211.6,3422.6 1217.8,3417.2 1224.0,3411.4 1230.2,3411.1 1236.4,3404.9 1242.6,3404.8 1248.8,3404.7 1255.0,3399.9 1261.2,3398.7 1267.4,3393.9 1273.6,3392.4 1279.8,3399.0 1286.0,3399.7 1292.2,3396.0 1298.4,3380.7 1304.6,3376.5 1310.8,3378.0 1317.0,3378.6 1323.2,3374.2 1329.4,3368.4 1335.6,3372.2 1341.8,3373.4 1348.0,3369.4 1354.3,3370.7 1360.5,3375.4 1366.7,3371.0 1372.9,3374.7 1379.1,3374.2 1385.3,3377.6 1391.5,3378.7 1397.7,3380.6 1403.9,3373.3 1410.1,3374.4 1416.3,3380.2 1422.5,3370.8 1428.7,3358.9 1434.9,3369.5 1441.1,3366.6 1447.3,3372.2 1453.5,3365.6 1459.7,3364.6 1465.9,3361.4 1472.1,3371.7 1478.3,3368.0 1484.5,3374.6 1490.7,3371.3 1496.9,3367.7 1503.1,3371.1 1509.3,3365.3 1515.5,3366.4 1521.7,3355.2 1527.9,3356.8 1534.1,3354.0 1540.3,3351.9 1546.5,3352.2 1552.7,3344.4 1558.9,3344.6 1565.1,3349.6 1571.3,3347.2 1577.5,3341.6 1583.7,3342.4 1589.9,3348.3 1596.2,3346.5 1602.4,3354.7 1608.6,3350.7 1614.8,3356.3 1621.0,3352.4 1627.2,3341.6 1633.4,3348.2 1639.6,3338.0 1645.8,3346.6 1652.0,3342.9 1658.2,3344.9 1664.4,3351.7 1670.6,3351.3 1676.8,3353.1 1683.0,3349.2 1689.2,3351.2 1695.4,3351.8 1701.6,3343.5 1707.8,3342.5 1714.0,3339.3 1720.2,3343.2" fill="none" stroke="#d03838" stroke-width="1.8" stroke-linejoin="round" stroke-dasharray="10 5"/>
<g fill="#ff0000" stroke="none" stroke-width="0">
<circle cx="479.7" cy="3361.9" r="12"/>
<circle cx="492.6" cy="3457.5" r="12"/>
<circle cx="504.1" cy="3542.8" r="12"/>
<circle cx="516.7" cy="3606.5" r="12"/>
<circle cx="528.3" cy="3664.6" r="12"/>
<circle cx="540.7" cy="3711.2" r="12"/>
<circle cx="553.1" cy="3733.1" r="12"/>
<circle cx="566.0" cy="3777.8" r="12"/>
<circle cx="578.9" cy="3793.8" r="12"/>
<circle cx="591.0" cy="3818.9" r="12"/>
<circle cx="603.1" cy="3837.1" r="12"/>
<circle cx="610.0" cy="3849.6" r="12"/>
<circle cx="616.2" cy="3858.6" r="12"/>
<circle cx="622.4" cy="3865.4" r="12"/>
<circle cx="628.6" cy="3874.0" r="12"/>
<circle cx="634.8" cy="3877.3" r="12"/>
<circle cx="641.0" cy="3881.8" r="12"/>
<circle cx="647.2" cy="3885.3" r="12"/>
<circle cx="653.4" cy="3883.3" r="12"/>
<circle cx="659.6" cy="3893.0" r="12"/>
<circle cx="665.8" cy="3896.0" r="12"/>
<circle cx="672.0" cy="3898.8" r="12"/>
<circle cx="678.2" cy="3899.6" r="12"/>
<circle cx="684.4" cy="3899.9" r="12"/>
<circle cx="690.6" cy="3899.2" r="12"/>
<circle cx="696.8" cy="3894.4" r="12"/>
<circle cx="703.0" cy="3897.9" r="12"/>
<circle cx="709.2" cy="3899.1" r="12"/>
<circle cx="715.4" cy="3890.8" r="12"/>
<circle cx="721.6" cy="3888.2" r="12"/>
<circle cx="727.8" cy="3884.3" r="12"/>
<circle cx="734.0" cy="3880.6" r="12"/>
<circle cx="740.2" cy="3871.5" r="12"/>
<circle cx="746.4" cy="3867.5" r="12"/>
<circle cx="752.6" cy="3870.1" r="12"/>
<circle cx="758.8" cy="3866.5" r="12"/>
<circle cx="765.0" cy="3863.8" r="12"/>
<circle cx="771.2" cy="3862.3" r="12"/>
<circle cx="777.4" cy="3857.5" r="12"/>
<circle cx="783.6" cy="3852.8" r="12"/>
<circle cx="789.8" cy="3850.6" r="12"/>
<circle cx="796.0" cy="3844.1" r="12"/>
<circle cx="802.2" cy="3838.5" r="12"/>
<circle cx="808.4" cy="3831.4" r="12"/>
<circle cx="814.6" cy="3827.3" r="12"/>
<circle cx="820.8" cy="3821.9" r="12"/>
<circle cx="827.0" cy="3817.1" r="12"/>
<circle cx="833.2" cy="3813.1" r="12"/>
<circle cx="839.4" cy="3812.4" r="12"/>
<circle cx="845.6" cy="3808.3" r="12"/>
<circle cx="851.8" cy="3803.8" r="12"/>
<circle cx="858.1" cy="3796.3" r="12"/>
<circle cx="864.3" cy="3791.2" r="12"/>
<circle cx="870.5" cy="3786.9" r="12"/>
<circle cx="876.7" cy="3775.4" r="12"/>
<circle cx="882.9" cy="3773.0" r="12"/>
<circle cx="889.1" cy="3765.7" r="12"/>
<circle cx="895.3" cy="3758.9" r="12"/>
<circle cx="901.5" cy="3748.2" r="12"/>
<circle cx="907.7" cy="3742.6" r="12"/>
<circle cx="913.9" cy="3742.4" r="12"/>
<circle cx="920.1" cy="3735.2" r="12"/>
<circle cx="926.3" cy="3729.3" r="12"/>
<circle cx="932.5" cy="3727.5" r="12"/>
<circle cx="938.7" cy="3721.1" r="12"/>
<circle cx="944.9" cy="3712.7" r="12"/>
<circle cx="951.1" cy="3695.6" r="12"/>
<circle cx="957.3" cy="3691.9" r="12"/>
<circle cx="963.5" cy="3682.6" r="12"/>
<circle cx="969.7" cy="3674.9" r="12"/>
<circle cx="975.9" cy="3668.0" r="12"/>
<circle cx="982.1" cy="3656.6" r="12"/>
<circle cx="988.3" cy="3657.2" r="12"/>
<circle cx="994.5" cy="3648.8" r="12"/>
<circle cx="1000.7" cy="3637.4" r="12"/>
<circle cx="1006.9" cy="3634.8" r="12"/>
<circle cx="1013.1" cy="3623.4" r="12"/>
<circle cx="1019.3" cy="3612.6" r="12"/>
<circle cx="1025.5" cy="3604.0" r="12"/>
<circle cx="1031.7" cy="3592.1" r="12"/>
<circle cx="1037.9" cy="3579.3" r="12"/>
<circle cx="1044.1" cy="3574.4" r="12"/>
<circle cx="1050.3" cy="3566.6" r="12"/>
<circle cx="1056.5" cy="3563.8" r="12"/>
<circle cx="1062.7" cy="3561.2" r="12"/>
<circle cx="1068.9" cy="3548.4" r="12"/>
<circle cx="1075.1" cy="3548.8" r="12"/>
<circle cx="1081.3" cy="3540.6" r="12"/>
<circle cx="1087.5" cy="3534.1" r="12"/>
<circle cx="1093.7" cy="3523.3" r="12"/>
<circle cx="1100.0" cy="3523.2" r="12"/>
<circle cx="1106.2" cy="3511.4" r="12"/>
<circle cx="1112.4" cy="3510.9" r="12"/>
<circle cx="1118.6" cy="3497.8" r="12"/>
<circle cx="1124.8" cy="3490.7" r="12"/>
<circle cx="1131.0" cy="3486.9" r="12"/>
<circle cx="1137.2" cy="3481.1" r="12"/>
<circle cx="1143.4" cy="3476.0" r="12"/>
<circle cx="1149.6" cy="3469.0" r="12"/>
<circle cx="1155.8" cy="3467.7" r="12"/>
<circle cx="1162.0" cy="3455.7" r="12"/>
<circle cx="1168.2" cy="3458.3" r="12"/>
<circle cx="1174.4" cy="3452.4" r="12"/>
<circle cx="1180.6" cy="3446.7" r="12"/>
<circle cx="1186.8" cy="3440.0" r="12"/>
<circle cx="1193.0" cy="3435.5" r="12"/>
<circle cx="1199.2" cy="3429.1" r="12"/>
<circle cx="1205.4" cy="3426.9" r="12"/>
<circle cx="1211.6" cy="3422.6" r="12"/>
<circle cx="1217.8" cy="3417.2" r="12"/>
<circle cx="1224.0" cy="3411.4" r="12"/>
<circle cx="1230.2" cy="3411.1" r="12"/>
<circle cx="1236.4" cy="3404.9" r="12"/>
<circle cx="1242.6" cy="3404.8" r="12"/>
<circle cx="1248.8" cy="3404.7" r="12"/>
<circle cx="1255.0" cy="3399.9" r="12"/>
<circle cx="1261.2" cy="3398.7" r="12"/>
<circle cx="1267.4" cy="3393.9" r="12"/>
<circle cx="1273.6" cy="3392.4" r="12"/>
<circle cx="1279.8" cy="3399.0" r="12"/>
<circle cx="1286.0" cy="3399.7" r="12"/>
<circle cx="1292.2" cy="3396.0" r="12"/>
<circle cx="1298.4" cy="3380.7" r="12"/>
<circle cx="1304.6" cy="3376.5" r="12"/>
<circle cx="1310.8" cy="3378.0" r="12"/>
<circle cx="1317.0" cy="3378.6" r="12"/>
<circle cx="1323.2" cy="3374.2" r="12"/>
<circle cx="1329.4" cy="3368.4" r="12"/>
<circle cx="1335.6" cy="3372.2" r="12"/>
<circle cx="1341.8" cy="3373.4" r="12"/>
<circle cx="1348.0" cy="3369.4" r="12"/>
<circle cx="1354.3" cy="3370.7" r="12"/>
<circle cx="1360.5" cy="3375.4" r="12"/>
<circle cx="1366.7" cy="3371.0" r="12"/>
<circle cx="1372.9" cy="3374.7" r="12"/>
<circle cx="1379.1" cy="3374.2" r="12"/>
<circle cx="1385.3" cy="3377.6" r="12"/>
<circle cx="1391.5" cy="3378.7" r="12"/>
<circle cx="1397.7" cy="3380.6" r="12"/>
<circle cx="1403.9" cy="3373.3" r="12"/>
<circle cx="1410.1" cy="3374.4" r="12"/>
<circle cx="1416.3" cy="3380.2" r="12"/>
<circle cx="1422.5" cy="3370.8" r="12"/>
<circle cx="1428.7" cy="3358.9" r="12"/>
<circle cx="1434.9" cy="3369.5" r="12"/>
<circle cx="1441.1" cy="3366.6" r="12"/>
<circle cx="1447.3" cy="3372.2" r="12"/>
<circle cx="1453.5" cy="3365.6" r="12"/>
<circle cx="1459.7" cy="3364.6" r="12"/>
<circle cx="1465.9" cy="3361.4" r="12"/>
<circle cx="1472.1" cy="3371.7" r="12"/>
<circle cx="1478.3" cy="3368.0" r="12"/>
<circle cx="1484.5" cy="3374.6" r="12"/>
<circle cx="1490.7" cy="3371.3" r="12"/>
<circle cx="1496.9" cy="3367.7" r="12"/>
<circle cx="1503.1" cy="3371.1" r="12"/>
<circle cx="1509.3" cy="3365.3" r="12"/>
<circle cx="1515.5" cy="3366.4" r="12"/>
<circle cx="1521.7" cy="3355.2" r="12"/>
<circle cx="1527.9" cy="3356.8" r="12"/>
<circle cx="1534.1" cy="3354.0" r="12"/>
<circle cx="1540.3" cy="3351.9" r="12"/>
<circle cx="1546.5" cy="3352.2" r="12"/>
<circle cx="1552.7" cy="3344.4" r="12"/>
<circle cx="1558.9" cy="3344.6" r="12"/>
<circle cx="1565.1" cy="3349.6" r="12"/>
<circle cx="1571.3" cy="3347.2" r="12"/>
<circle cx="1577.5" cy="3341.6" r="12"/>
<circle cx="1583.7" cy="3342.4" r="12"/>
<circle cx="1589.9" cy="3348.3" r="12"/>
<circle cx="1596.2" cy="3346.5" r="12"/>
<circle cx="1602.4" cy="3354.7" r="12"/>
<circle cx="1608.6" cy="3350.7" r="12"/>
<circle cx="1614.8" cy="3356.3" r="12"/>
<circle cx="1621.0" cy="3352.4" r="12"/>
<circle cx="1627.2" cy="3341.6" r="12"/>
<circle cx="1633.4" cy="3348.2" r="12"/>
<circle cx="1639.6" cy="3338.0" r="12"/>
<circle cx="1645.8" cy="3346.6" r="12"/>
<circle cx="1652.0" cy="3342.9" r="12"/>
<circle cx="1658.2" cy="3344.9" r="12"/>
<circle cx="1664.4" cy="3351.7" r="12"/>
<circle cx="1670.6" cy="3351.3" r="12"/>
<circle cx="1676.8" cy="3353.1" r="12"/>
<circle cx="1683.0" cy="3349.2" r="12"/>
<circle cx="1689.2" cy="3351.2" r="12"/>
<circle cx="1695.4" cy="3351.8" r="12"/>
<circle cx="1701.6" cy="3343.5" r="12"/>
<circle cx="1707.8" cy="3342.5" r="12"/>
<circle cx="1714.0" cy="3339.3" r="12"/>
<circle cx="1720.2" cy="3343.2" r="12"/>
</g>
<polyline points="479.7,3436.0 492.1,3615.4 504.5,3779.6 516.9,3927.5 528.1,4054.3 540.5,4148.1 554.1,4210.8 566.5,4242.7 577.7,4259.6 590.1,4270.1 603.8,4276.3 614.9,4261.0 628.6,4253.0 641.0,4213.1 653.4,4178.9 665.8,4148.5 678.2,4092.9 690.6,4077.1 703.0,4020.8 715.4,3964.4 727.8,3909.7 739.0,3870.9 752.6,3844.4 765.0,3791.0 778.7,3761.4 789.8,3708.9 802.2,3688.4 814.6,3664.0 827.0,3629.7 839.4,3618.3 850.6,3585.7 865.5,3567.0 876.7,3547.1 889.1,3530.0 900.2,3494.0 913.9,3496.7 927.5,3501.3 938.7,3467.1 951.1,3459.8 963.5,3470.0 977.1,3448.4 988.3,3443.3 1000.7,3427.4 1013.1,3418.7 1025.5,3425.5 1037.9,3398.9 1049.1,3407.3 1062.7,3421.7 1075.1,3410.3 1087.5,3408.9 1098.7,3410.3 1112.4,3423.3 1124.8,3400.4 1135.9,3423.3 1149.6,3401.6 1160.7,3414.1 1173.1,3424.4 1184.3,3422.8 1197.9,3417.6 1210.4,3435.8 1224.0,3440.4 1236.4,3426.0 1248.8,3424.4 1261.2,3430.1 1273.6,3444.5 1284.8,3460.0 1295.9,3458.6 1309.6,3451.3 1320.8,3465.7 1334.4,3463.6 1348.0,3451.3 1360.5,3467.1 1372.9,3471.4 1385.3,3462.5 1398.9,3455.4 1410.1,3471.6 1422.5,3469.3 1432.4,3488.5 1444.8,3473.9 1457.2,3476.2 1469.6,3465.7 1482.0,3480.8 1494.4,3473.9 1509.3,3455.4 1520.5,3469.3 1531.6,3464.8 1544.0,3482.8 1556.5,3483.0 1568.9,3483.0 1581.3,3483.0 1594.9,3465.7 1607.3,3483.0 1619.7,3485.3 1632.1,3499.9 1644.5,3489.9 1658.2,3474.4 1670.6,3476.2 1683.0,3488.5" fill="none" stroke="#2020c0" stroke-width="1.8" stroke-linejoin="round" />
<g fill="#fff" stroke="#0000ff" stroke-width="5.4">
<circle cx="479.7" cy="3436.0" r="9.8"/>
<circle cx="492.1" cy="3615.4" r="9.8"/>
<circle cx="504.5" cy="3779.6" r="9.8"/>
<circle cx="516.9" cy="3927.5" r="9.8"/>
<circle cx="528.1" cy="4054.3" r="9.8"/>
<circle cx="540.5" cy="4148.1" r="9.8"/>
<circle cx="554.1" cy="4210.8" r="9.8"/>
<circle cx="566.5" cy="4242.7" r="9.8"/>
<circle cx="577.7" cy="4259.6" r="9.8"/>
<circle cx="590.1" cy="4270.1" r="9.8"/>
<circle cx="603.8" cy="4276.3" r="9.8"/>
<circle cx="614.9" cy="4261.0" r="9.8"/>
<circle cx="628.6" cy="4253.0" r="9.8"/>
<circle cx="641.0" cy="4213.1" r="9.8"/>
<circle cx="653.4" cy="4178.9" r="9.8"/>
<circle cx="665.8" cy="4148.5" r="9.8"/>
<circle cx="678.2" cy="4092.9" r="9.8"/>
<circle cx="690.6" cy="4077.1" r="9.8"/>
<circle cx="703.0" cy="4020.8" r="9.8"/>
<circle cx="715.4" cy="3964.4" r="9.8"/>
<circle cx="727.8" cy="3909.7" r="9.8"/>
<circle cx="739.0" cy="3870.9" r="9.8"/>
<circle cx="752.6" cy="3844.4" r="9.8"/>
<circle cx="765.0" cy="3791.0" r="9.8"/>
<circle cx="778.7" cy="3761.4" r="9.8"/>
<circle cx="789.8" cy="3708.9" r="9.8"/>
<circle cx="802.2" cy="3688.4" r="9.8"/>
<circle cx="814.6" cy="3664.0" r="9.8"/>
<circle cx="827.0" cy="3629.7" r="9.8"/>
<circle cx="839.4" cy="3618.3" r="9.8"/>
<circle cx="850.6" cy="3585.7" r="9.8"/>
<circle cx="865.5" cy="3567.0" r="9.8"/>
<circle cx="876.7" cy="3547.1" r="9.8"/>
<circle cx="889.1" cy="3530.0" r="9.8"/>
<circle cx="900.2" cy="3494.0" r="9.8"/>
<circle cx="913.9" cy="3496.7" r="9.8"/>
<circle cx="927.5" cy="3501.3" r="9.8"/>
<circle cx="938.7" cy="3467.1" r="9.8"/>
<circle cx="951.1" cy="3459.8" r="9.8"/>
<circle cx="963.5" cy="3470.0" r="9.8"/>
<circle cx="977.1" cy="3448.4" r="9.8"/>
<circle cx="988.3" cy="3443.3" r="9.8"/>
<circle cx="1000.7" cy="3427.4" r="9.8"/>
<circle cx="1013.1" cy="3418.7" r="9.8"/>
<circle cx="1025.5" cy="3425.5" r="9.8"/>
<circle cx="1037.9" cy="3398.9" r="9.8"/>
<circle cx="1049.1" cy="3407.3" r="9.8"/>
<circle cx="1062.7" cy="3421.7" r="9.8"/>
<circle cx="1075.1" cy="3410.3" r="9.8"/>
<circle cx="1087.5" cy="3408.9" r="9.8"/>
<circle cx="1098.7" cy="3410.3" r="9.8"/>
<circle cx="1112.4" cy="3423.3" r="9.8"/>
<circle cx="1124.8" cy="3400.4" r="9.8"/>
<circle cx="1135.9" cy="3423.3" r="9.8"/>
<circle cx="1149.6" cy="3401.6" r="9.8"/>
<circle cx="1160.7" cy="3414.1" r="9.8"/>
<circle cx="1173.1" cy="3424.4" r="9.8"/>
<circle cx="1184.3" cy="3422.8" r="9.8"/>
<circle cx="1197.9" cy="3417.6" r="9.8"/>
<circle cx="1210.4" cy="3435.8" r="9.8"/>
<circle cx="1224.0" cy="3440.4" r="9.8"/>
<circle cx="1236.4" cy="3426.0" r="9.8"/>
<circle cx="1248.8" cy="3424.4" r="9.8"/>
<circle cx="1261.2" cy="3430.1" r="9.8"/>
<circle cx="1273.6" cy="3444.5" r="9.8"/>
<circle cx="1284.8" cy="3460.0" r="9.8"/>
<circle cx="1295.9" cy="3458.6" r="9.8"/>
<circle cx="1309.6" cy="3451.3" r="9.8"/>
<circle cx="1320.8" cy="3465.7" r="9.8"/>
<circle cx="1334.4" cy="3463.6" r="9.8"/>
<circle cx="1348.0" cy="3451.3" r="9.8"/>
<circle cx="1360.5" cy="3467.1" r="9.8"/>
<circle cx="1372.9" cy="3471.4" r="9.8"/>
<circle cx="1385.3" cy="3462.5" r="9.8"/>
<circle cx="1398.9" cy="3455.4" r="9.8"/>
<circle cx="1410.1" cy="3471.6" r="9.8"/>
<circle cx="1422.5" cy="3469.3" r="9.8"/>
<circle cx="1432.4" cy="3488.5" r="9.8"/>
<circle cx="1444.8" cy="3473.9" r="9.8"/>
<circle cx="1457.2" cy="3476.2" r="9.8"/>
<circle cx="1469.6" cy="3465.7" r="9.8"/>
<circle cx="1482.0" cy="3480.8" r="9.8"/>
<circle cx="1494.4" cy="3473.9" r="9.8"/>
<circle cx="1509.3" cy="3455.4" r="9.8"/>
<circle cx="1520.5" cy="3469.3" r="9.8"/>
<circle cx="1531.6" cy="3464.8" r="9.8"/>
<circle cx="1544.0" cy="3482.8" r="9.8"/>
<circle cx="1556.5" cy="3483.0" r="9.8"/>
<circle cx="1568.9" cy="3483.0" r="9.8"/>
<circle cx="1581.3" cy="3483.0" r="9.8"/>
<circle cx="1594.9" cy="3465.7" r="9.8"/>
<circle cx="1607.3" cy="3483.0" r="9.8"/>
<circle cx="1619.7" cy="3485.3" r="9.8"/>
<circle cx="1632.1" cy="3499.9" r="9.8"/>
<circle cx="1644.5" cy="3489.9" r="9.8"/>
<circle cx="1658.2" cy="3474.4" r="9.8"/>
<circle cx="1670.6" cy="3476.2" r="9.8"/>
<circle cx="1683.0" cy="3488.5" r="9.8"/>
</g>
<line x1="331" y1="3197.6" x2="1846.2" y2="3197.6" stroke="#000" stroke-width="5" />
<line x1="353.2" y1="4396.5" x2="1846.2" y2="4396.5" stroke="#000" stroke-width="5" />
<line x1="355.7" y1="3195.1" x2="355.7" y2="4409.5" stroke="#000" stroke-width="5" />
<line x1="1843.7" y1="3195.1" x2="1843.7" y2="4410" stroke="#000" stroke-width="5" />
<line x1="331" y1="3197.9" x2="355.7" y2="3197.9" stroke="#000" stroke-width="4.5" />
<line x1="331" y1="3426" x2="355.7" y2="3426" stroke="#000" stroke-width="4.5" />
<line x1="331" y1="3654.1" x2="355.7" y2="3654.1" stroke="#000" stroke-width="4.5" />
<line x1="331" y1="3882.3" x2="355.7" y2="3882.3" stroke="#000" stroke-width="4.5" />
<line x1="331" y1="4110.4" x2="355.7" y2="4110.4" stroke="#000" stroke-width="4.5" />
<line x1="331" y1="4338.6" x2="355.7" y2="4338.6" stroke="#000" stroke-width="4.5" />
<line x1="342" y1="3311.9" x2="355.7" y2="3311.9" stroke="#000" stroke-width="4" />
<line x1="342" y1="3540.1" x2="355.7" y2="3540.1" stroke="#000" stroke-width="4" />
<line x1="342" y1="3768.2" x2="355.7" y2="3768.2" stroke="#000" stroke-width="4" />
<line x1="342" y1="3996.4" x2="355.7" y2="3996.4" stroke="#000" stroke-width="4" />
<line x1="342" y1="4224.5" x2="355.7" y2="4224.5" stroke="#000" stroke-width="4" />
<line x1="479.7" y1="4396.5" x2="479.7" y2="4421" stroke="#000" stroke-width="4" />
<line x1="727.8" y1="4396.5" x2="727.8" y2="4421" stroke="#000" stroke-width="4" />
<line x1="975.9" y1="4396.5" x2="975.9" y2="4421" stroke="#000" stroke-width="4" />
<line x1="1224" y1="4396.5" x2="1224" y2="4421" stroke="#000" stroke-width="4" />
<line x1="1472.1" y1="4396.5" x2="1472.1" y2="4421" stroke="#000" stroke-width="4" />
<line x1="1720.2" y1="4396.5" x2="1720.2" y2="4421" stroke="#000" stroke-width="4" />
<line x1="603.8" y1="4396.5" x2="603.8" y2="4409.5" stroke="#000" stroke-width="4" />
<line x1="851.8" y1="4396.5" x2="851.8" y2="4409.5" stroke="#000" stroke-width="4" />
<line x1="1100" y1="4396.5" x2="1100" y2="4409.5" stroke="#000" stroke-width="4" />
<line x1="1348" y1="4396.5" x2="1348" y2="4409.5" stroke="#000" stroke-width="4" />
<line x1="1596.2" y1="4396.5" x2="1596.2" y2="4409.5" stroke="#000" stroke-width="4" />
<text x="314.4" y="3211.3" font-size="51" font-weight="bold" font-style="normal" text-anchor="end" >0.1</text>
<text x="314.4" y="3439.4" font-size="51" font-weight="bold" font-style="normal" text-anchor="end" >0.0</text>
<text x="314.4" y="3667.5" font-size="51" font-weight="bold" font-style="normal" text-anchor="end" >-0.1</text>
<text x="314.4" y="3895.7" font-size="51" font-weight="bold" font-style="normal" text-anchor="end" >-0.2</text>
<text x="314.4" y="4123.8" font-size="51" font-weight="bold" font-style="normal" text-anchor="end" >-0.3</text>
<text x="314.4" y="4352" font-size="51" font-weight="bold" font-style="normal" text-anchor="end" >-0.4</text>
<text x="479.7" y="4488.5" font-size="69" font-weight="bold" font-style="normal" text-anchor="middle" >0</text>
<text x="727.8" y="4488.5" font-size="69" font-weight="bold" font-style="normal" text-anchor="middle" >2</text>
<text x="975.9" y="4488.5" font-size="69" font-weight="bold" font-style="normal" text-anchor="middle" >4</text>
<text x="1224" y="4488.5" font-size="69" font-weight="bold" font-style="normal" text-anchor="middle" >6</text>
<text x="1472.1" y="4488.5" font-size="69" font-weight="bold" font-style="normal" text-anchor="middle" >8</text>
<text x="1720.2" y="4488.5" font-size="69" font-weight="bold" font-style="normal" text-anchor="middle" >10</text>
<text transform="translate(693.1,4596.7) scale(1,1.025)" font-size="79.6" font-weight="bold">Magnetic Field (kOe)</text>
<text transform="translate(200,3840.3) rotate(-90)" font-weight="normal"><tspan font-size="56">&#916;</tspan><tspan font-size="65">M</tspan></text>
<text x="1644.8" y="3737.9" font-size="113" font-weight="bold" font-style="normal" text-anchor="start" >(c)</text>
<line x1="1241.3" y1="4115.9" x2="1419.6" y2="4115.9" stroke="#ff4040" stroke-width="2" />
<g fill="#ff0000" stroke="none" stroke-width="0">
<circle cx="1330.2" cy="4117.5" r="12.5"/>
</g>
<line x1="1241.3" y1="4217" x2="1419.6" y2="4217" stroke="#b0b0ff" stroke-width="2.2" />
<g fill="#fff" stroke="#0000ff" stroke-width="4.5">
<circle cx="1330.2" cy="4217.0" r="9.5"/>
</g>
<text x="1441.1" y="4142.7" font-size="78" font-weight="bold" font-style="italic" text-anchor="start" >s/d=0.53</text>
<text x="1441.1" y="4242.9" font-size="78" font-weight="bold" font-style="italic" text-anchor="start" >s/d=0.55</text>
</svg></body></html>
